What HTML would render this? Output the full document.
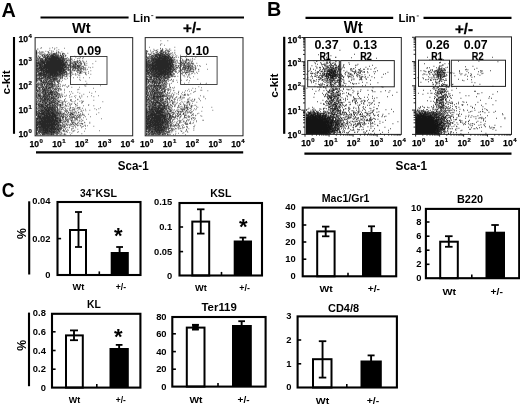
<!DOCTYPE html>
<html><head><meta charset="utf-8"><title>Figure</title>
<style>html,body{margin:0;padding:0;background:#fff}svg{display:block}text{font-family:"Liberation Sans",sans-serif;font-weight:bold;fill:#000}</style>
</head><body>
<svg width="520" height="406" viewBox="0 0 520 406">
<defs><filter id="soft" filterUnits="userSpaceOnUse" x="0" y="0" width="520" height="406"><feGaussianBlur stdDeviation="0.35"/></filter></defs>
<rect width="520" height="406" fill="#fff"/>
<path transform="scale(0.5) translate(0,0.5)" d="M82 95h1.4M104 95h1.4M113 95h1.4M81 96h1.4M99 96h1.4M109 96h1.4M128 96h1.4M75 97h1.4M108 98h1.4M75 99h1.4M117 99h1.4M72 100h1.4M99 100h1.4M113 100h1.4M72 101h1.4M103 101h1.4M72 102h1.4M78 102h1.4M91 102h1.4M106 102h1.4M72 103h2.4M83 103h1.4M85 103h1.4M95 103h2.4M103 103h1.4M113 103h1.4M116 103h1.4M123 103h1.4M72 104h2.4M79 104h2.4M87 104h1.4M96 104h1.4M103 104h1.4M116 104h2.4M72 105h2.4M76 105h1.4M82 105h1.4M84 105h1.4M96 105h1.4M99 105h1.4M112 105h2.4M119 105h1.4M169 105h1.4M72 106h2.4M78 106h1.4M102 106h1.4M107 106h2.4M111 106h1.4M113 106h1.4M120 106h1.4M124 106h1.4M126 106h1.4M135 106h1.4M169 106h1.4M72 107h2.4M80 107h1.4M83 107h1.4M89 107h1.4M97 107h1.4M101 107h1.4M105 107h5.4M111 107h1.4M113 107h1.4M117 107h1.4M124 107h1.4M126 107h1.4M128 107h1.4M72 108h2.4M79 108h1.4M86 108h1.4M89 108h1.4M94 108h2.4M98 108h2.4M105 108h1.4M107 108h2.4M110 108h1.4M116 108h1.4M120 108h1.4M124 108h2.4M129 108h1.4M72 109h1.4M81 109h1.4M83 109h2.4M87 109h1.4M91 109h1.4M93 109h1.4M95 109h1.4M99 109h1.4M102 109h3.4M106 109h5.4M112 109h3.4M124 109h1.4M73 110h1.4M84 110h1.4M88 110h1.4M93 110h1.4M95 110h2.4M99 110h1.4M101 110h2.4M104 110h2.4M107 110h1.4M110 110h2.4M114 110h1.4M116 110h1.4M120 110h2.4M125 110h2.4M131 110h1.4M72 111h2.4M77 111h1.4M83 111h3.4M88 111h3.4M92 111h2.4M96 111h1.4M100 111h1.4M102 111h6.4M109 111h2.4M112 111h2.4M115 111h2.4M119 111h4.4M126 111h2.4M130 111h2.4M73 112h1.4M76 112h1.4M85 112h1.4M87 112h1.4M89 112h2.4M94 112h3.4M99 112h2.4M102 112h8.4M111 112h4.4M116 112h2.4M121 112h4.4M127 112h1.4M149 112h1.4M159 112h1.4M72 113h2.4M77 113h1.4M80 113h1.4M85 113h1.4M89 113h1.4M91 113h1.4M94 113h5.4M100 113h2.4M103 113h9.4M113 113h3.4M118 113h1.4M122 113h1.4M125 113h1.4M127 113h1.4M130 113h1.4M143 113h1.4M72 114h2.4M78 114h2.4M87 114h4.4M92 114h4.4M99 114h1.4M101 114h16.4M121 114h3.4M125 114h3.4M160 114h1.4M73 115h1.4M75 115h1.4M78 115h2.4M86 115h3.4M90 115h1.4M93 115h4.4M98 115h2.4M101 115h24.4M126 115h1.4M134 115h1.4M151 115h1.4M166 115h1.4M75 116h1.4M77 116h1.4M79 116h1.4M83 116h1.4M90 116h2.4M93 116h1.4M95 116h27.4M123 116h1.4M125 116h2.4M132 116h1.4M157 116h1.4M159 116h1.4M164 116h1.4M72 117h2.4M75 117h1.4M79 117h7.4M90 117h29.4M121 117h2.4M124 117h8.4M133 117h1.4M136 117h1.4M143 117h1.4M154 117h1.4M72 118h2.4M76 118h2.4M80 118h1.4M82 118h4.4M87 118h10.4M98 118h16.4M115 118h8.4M124 118h3.4M129 118h2.4M139 118h1.4M143 118h1.4M75 119h1.4M79 119h2.4M84 119h1.4M90 119h4.4M96 119h26.4M123 119h2.4M126 119h3.4M133 119h1.4M137 119h1.4M143 119h1.4M148 119h1.4M72 120h4.4M77 120h1.4M80 120h4.4M85 120h1.4M87 120h1.4M90 120h2.4M93 120h33.4M128 120h1.4M133 120h4.4M158 120h2.4M165 120h1.4M72 121h2.4M76 121h1.4M79 121h4.4M84 121h12.4M97 121h2.4M100 121h30.4M131 121h2.4M135 121h1.4M138 121h2.4M145 121h1.4M154 121h2.4M72 122h2.4M79 122h2.4M82 122h5.4M88 122h35.4M124 122h5.4M143 122h1.4M152 122h1.4M157 122h1.4M160 122h1.4M165 122h1.4M172 122h1.4M191 122h1.4M75 123h3.4M79 123h2.4M82 123h7.4M91 123h2.4M94 123h33.4M130 123h1.4M132 123h2.4M137 123h1.4M146 123h1.4M148 123h4.4M154 123h2.4M161 123h1.4M166 123h1.4M72 124h3.4M76 124h2.4M79 124h3.4M83 124h45.4M130 124h4.4M142 124h1.4M148 124h2.4M152 124h1.4M154 124h1.4M158 124h1.4M161 124h1.4M169 124h1.4M72 125h2.4M75 125h1.4M77 125h1.4M79 125h2.4M82 125h9.4M92 125h35.4M128 125h3.4M132 125h1.4M135 125h1.4M138 125h1.4M144 125h1.4M146 125h1.4M150 125h1.4M154 125h2.4M158 125h1.4M161 125h1.4M166 125h1.4M72 126h13.4M86 126h4.4M92 126h33.4M126 126h2.4M129 126h3.4M133 126h1.4M140 126h1.4M142 126h1.4M145 126h1.4M149 126h3.4M156 126h1.4M160 126h1.4M162 126h1.4M169 126h1.4M173 126h1.4M72 127h1.4M74 127h1.4M76 127h2.4M79 127h2.4M82 127h1.4M84 127h6.4M91 127h39.4M134 127h1.4M139 127h1.4M143 127h1.4M145 127h1.4M149 127h3.4M153 127h1.4M157 127h1.4M161 127h1.4M163 127h1.4M168 127h1.4M185 127h1.4M72 128h2.4M75 128h2.4M78 128h5.4M84 128h2.4M87 128h44.4M133 128h2.4M141 128h1.4M145 128h3.4M150 128h3.4M162 128h1.4M168 128h2.4M72 129h1.4M75 129h1.4M78 129h7.4M88 129h45.4M134 129h1.4M136 129h1.4M138 129h2.4M147 129h2.4M150 129h1.4M152 129h1.4M157 129h1.4M159 129h1.4M161 129h1.4M72 130h4.4M77 130h1.4M79 130h5.4M85 130h45.4M131 130h1.4M135 130h2.4M138 130h1.4M145 130h1.4M147 130h2.4M150 130h1.4M153 130h3.4M161 130h1.4M168 130h1.4M170 130h1.4M173 130h1.4M72 131h5.4M78 131h4.4M83 131h3.4M87 131h44.4M132 131h2.4M136 131h3.4M142 131h1.4M146 131h2.4M149 131h1.4M151 131h1.4M154 131h7.4M72 132h1.4M74 132h2.4M77 132h1.4M79 132h3.4M83 132h3.4M87 132h35.4M123 132h4.4M129 132h4.4M139 132h1.4M141 132h1.4M143 132h3.4M147 132h1.4M151 132h1.4M154 132h4.4M159 132h1.4M162 132h1.4M164 132h1.4M166 132h1.4M72 133h3.4M78 133h1.4M80 133h48.4M129 133h3.4M133 133h1.4M136 133h1.4M140 133h2.4M144 133h1.4M146 133h7.4M154 133h1.4M157 133h3.4M165 133h1.4M72 134h1.4M74 134h1.4M77 134h8.4M86 134h40.4M127 134h5.4M133 134h4.4M138 134h1.4M145 134h1.4M147 134h5.4M153 134h2.4M156 134h1.4M161 134h1.4M166 134h1.4M171 134h1.4M177 134h1.4M185 134h1.4M72 135h1.4M76 135h1.4M78 135h6.4M85 135h42.4M128 135h2.4M131 135h2.4M135 135h2.4M142 135h3.4M147 135h2.4M151 135h1.4M156 135h4.4M162 135h1.4M167 135h1.4M169 135h1.4M180 135h1.4M72 136h1.4M74 136h2.4M77 136h4.4M82 136h47.4M131 136h1.4M133 136h2.4M137 136h1.4M146 136h2.4M150 136h2.4M153 136h1.4M155 136h1.4M157 136h1.4M160 136h3.4M165 136h1.4M167 136h1.4M72 137h18.4M91 137h37.4M133 137h1.4M136 137h1.4M144 137h1.4M147 137h1.4M149 137h2.4M152 137h1.4M154 137h2.4M158 137h1.4M162 137h1.4M164 137h1.4M170 137h1.4M72 138h3.4M77 138h1.4M79 138h7.4M87 138h1.4M89 138h6.4M96 138h33.4M130 138h4.4M136 138h1.4M155 138h1.4M161 138h1.4M166 138h2.4M169 138h1.4M171 138h1.4M174 138h1.4M72 139h2.4M75 139h3.4M80 139h1.4M82 139h6.4M89 139h6.4M96 139h28.4M125 139h5.4M131 139h1.4M135 139h1.4M137 139h3.4M144 139h2.4M147 139h1.4M150 139h1.4M155 139h3.4M160 139h2.4M163 139h1.4M72 140h1.4M75 140h2.4M78 140h1.4M80 140h5.4M86 140h4.4M91 140h33.4M125 140h5.4M134 140h1.4M136 140h1.4M138 140h1.4M143 140h2.4M149 140h1.4M155 140h1.4M157 140h1.4M159 140h1.4M167 140h1.4M171 140h1.4M72 141h4.4M78 141h52.4M131 141h1.4M136 141h1.4M146 141h1.4M148 141h2.4M153 141h1.4M155 141h2.4M159 141h1.4M162 141h1.4M181 141h1.4M72 142h1.4M75 142h3.4M79 142h1.4M82 142h2.4M85 142h4.4M90 142h26.4M117 142h8.4M126 142h2.4M130 142h3.4M141 142h1.4M152 142h1.4M155 142h1.4M160 142h2.4M72 143h1.4M74 143h3.4M82 143h1.4M84 143h1.4M86 143h2.4M89 143h25.4M115 143h12.4M128 143h1.4M130 143h1.4M132 143h1.4M139 143h1.4M143 143h1.4M158 143h1.4M162 143h1.4M164 143h1.4M176 143h1.4M72 144h3.4M76 144h3.4M80 144h3.4M85 144h30.4M116 144h7.4M124 144h6.4M131 144h1.4M133 144h1.4M143 144h1.4M154 144h1.4M157 144h1.4M160 144h2.4M167 144h1.4M169 144h1.4M171 144h1.4M72 145h2.4M79 145h1.4M81 145h4.4M86 145h4.4M91 145h25.4M118 145h5.4M124 145h1.4M127 145h4.4M132 145h2.4M139 145h1.4M143 145h1.4M155 145h1.4M159 145h3.4M72 146h1.4M76 146h1.4M78 146h6.4M85 146h2.4M88 146h1.4M91 146h7.4M99 146h30.4M160 146h1.4M163 146h1.4M170 146h2.4M176 146h1.4M72 147h2.4M76 147h14.4M91 147h3.4M95 147h2.4M98 147h19.4M119 147h2.4M122 147h3.4M127 147h1.4M129 147h1.4M132 147h3.4M136 147h1.4M138 147h1.4M143 147h1.4M150 147h1.4M158 147h2.4M72 148h1.4M75 148h1.4M78 148h4.4M83 148h11.4M96 148h10.4M107 148h5.4M113 148h10.4M125 148h1.4M130 148h1.4M132 148h1.4M135 148h1.4M140 148h1.4M144 148h1.4M147 148h1.4M151 148h1.4M155 148h1.4M170 148h1.4M181 148h1.4M72 149h2.4M75 149h4.4M80 149h4.4M86 149h6.4M93 149h4.4M98 149h1.4M100 149h17.4M118 149h2.4M121 149h1.4M123 149h3.4M127 149h3.4M131 149h1.4M133 149h1.4M172 149h1.4M72 150h3.4M76 150h4.4M81 150h6.4M88 150h7.4M96 150h11.4M108 150h11.4M120 150h2.4M124 150h1.4M126 150h1.4M142 150h1.4M151 150h1.4M157 150h1.4M72 151h3.4M77 151h2.4M80 151h2.4M83 151h5.4M89 151h1.4M91 151h2.4M94 151h3.4M98 151h1.4M100 151h2.4M103 151h7.4M111 151h3.4M115 151h2.4M119 151h2.4M122 151h1.4M124 151h1.4M126 151h1.4M128 151h1.4M132 151h1.4M135 151h1.4M159 151h1.4M72 152h1.4M80 152h1.4M82 152h1.4M86 152h7.4M96 152h5.4M103 152h1.4M105 152h8.4M114 152h1.4M117 152h4.4M124 152h1.4M132 152h1.4M139 152h1.4M72 153h3.4M77 153h3.4M81 153h2.4M87 153h2.4M90 153h3.4M94 153h5.4M100 153h2.4M104 153h4.4M109 153h1.4M111 153h4.4M117 153h1.4M121 153h1.4M123 153h1.4M125 153h1.4M129 153h2.4M133 153h1.4M141 153h1.4M72 154h2.4M77 154h3.4M83 154h1.4M85 154h4.4M90 154h2.4M93 154h8.4M102 154h2.4M105 154h1.4M107 154h1.4M109 154h3.4M113 154h1.4M116 154h1.4M119 154h1.4M121 154h1.4M124 154h1.4M154 154h1.4M72 155h1.4M78 155h1.4M82 155h1.4M84 155h1.4M87 155h2.4M90 155h1.4M93 155h3.4M97 155h2.4M100 155h3.4M104 155h3.4M109 155h1.4M113 155h1.4M119 155h1.4M121 155h1.4M123 155h2.4M146 155h1.4M159 155h1.4M166 155h1.4M178 155h1.4M72 156h1.4M74 156h3.4M78 156h1.4M80 156h9.4M91 156h1.4M94 156h1.4M96 156h1.4M98 156h3.4M103 156h1.4M105 156h1.4M107 156h7.4M115 156h1.4M120 156h1.4M124 156h1.4M134 156h1.4M72 157h2.4M75 157h5.4M81 157h4.4M90 157h4.4M95 157h2.4M98 157h2.4M101 157h1.4M104 157h1.4M106 157h4.4M111 157h1.4M113 157h2.4M117 157h1.4M120 157h1.4M123 157h1.4M128 157h1.4M72 158h2.4M75 158h1.4M77 158h1.4M81 158h1.4M83 158h1.4M87 158h1.4M89 158h1.4M91 158h2.4M94 158h3.4M100 158h2.4M103 158h1.4M105 158h5.4M111 158h1.4M113 158h1.4M119 158h1.4M131 158h1.4M72 159h2.4M77 159h3.4M81 159h1.4M88 159h1.4M91 159h1.4M93 159h1.4M95 159h1.4M99 159h2.4M102 159h2.4M105 159h1.4M107 159h2.4M110 159h5.4M118 159h1.4M158 159h1.4M72 160h3.4M78 160h1.4M80 160h4.4M86 160h2.4M89 160h1.4M91 160h1.4M94 160h1.4M97 160h2.4M100 160h2.4M103 160h1.4M105 160h5.4M114 160h1.4M117 160h1.4M124 160h1.4M160 160h1.4M72 161h3.4M77 161h1.4M81 161h3.4M86 161h1.4M90 161h4.4M98 161h2.4M102 161h1.4M106 161h1.4M110 161h1.4M112 161h1.4M117 161h3.4M73 162h1.4M80 162h4.4M86 162h1.4M88 162h1.4M90 162h1.4M92 162h1.4M94 162h1.4M96 162h2.4M100 162h1.4M103 162h3.4M107 162h3.4M112 162h1.4M114 162h1.4M116 162h1.4M119 162h1.4M171 162h1.4M72 163h2.4M82 163h3.4M86 163h1.4M88 163h1.4M92 163h2.4M96 163h9.4M106 163h1.4M114 163h2.4M118 163h1.4M122 163h1.4M72 164h2.4M76 164h1.4M79 164h1.4M82 164h1.4M85 164h3.4M89 164h2.4M92 164h2.4M97 164h1.4M102 164h1.4M105 164h1.4M108 164h2.4M114 164h3.4M80 165h1.4M84 165h9.4M94 165h2.4M97 165h2.4M100 165h1.4M102 165h1.4M105 165h1.4M109 165h1.4M116 165h1.4M140 165h1.4M75 166h2.4M81 166h2.4M85 166h1.4M87 166h1.4M90 166h2.4M94 166h3.4M99 166h2.4M102 166h3.4M108 166h1.4M117 166h1.4M173 166h1.4M72 167h1.4M74 167h1.4M77 167h2.4M81 167h3.4M87 167h2.4M93 167h2.4M96 167h6.4M103 167h3.4M110 167h1.4M116 167h1.4M119 167h1.4M72 168h2.4M75 168h1.4M77 168h4.4M83 168h3.4M88 168h2.4M91 168h2.4M94 168h2.4M98 168h4.4M103 168h2.4M106 168h1.4M108 168h1.4M115 168h1.4M72 169h3.4M76 169h1.4M81 169h2.4M84 169h2.4M88 169h2.4M93 169h2.4M96 169h1.4M98 169h2.4M102 169h5.4M108 169h1.4M110 169h1.4M113 169h1.4M115 169h2.4M120 169h1.4M130 169h1.4M171 169h1.4M73 170h1.4M77 170h1.4M81 170h3.4M85 170h1.4M88 170h2.4M92 170h2.4M96 170h1.4M98 170h1.4M100 170h1.4M103 170h2.4M107 170h4.4M125 170h1.4M127 170h1.4M72 171h2.4M75 171h2.4M79 171h1.4M81 171h1.4M84 171h1.4M93 171h1.4M95 171h1.4M97 171h1.4M100 171h1.4M102 171h1.4M104 171h2.4M113 171h1.4M117 171h1.4M129 171h1.4M137 171h1.4M169 171h1.4M200 171h1.4M72 172h2.4M75 172h1.4M81 172h2.4M84 172h1.4M87 172h2.4M90 172h6.4M97 172h1.4M103 172h4.4M111 172h1.4M115 172h3.4M120 172h1.4M124 172h1.4M136 172h1.4M171 172h1.4M72 173h3.4M83 173h4.4M91 173h1.4M93 173h1.4M97 173h2.4M100 173h1.4M102 173h2.4M105 173h1.4M107 173h3.4M112 173h1.4M116 173h1.4M133 173h1.4M72 174h2.4M75 174h2.4M78 174h3.4M83 174h1.4M86 174h2.4M91 174h3.4M98 174h3.4M102 174h1.4M113 174h2.4M119 174h1.4M134 174h1.4M143 174h1.4M158 174h1.4M72 175h1.4M76 175h2.4M79 175h1.4M81 175h4.4M86 175h2.4M89 175h2.4M92 175h3.4M96 175h7.4M104 175h3.4M111 175h1.4M72 176h1.4M79 176h1.4M84 176h1.4M87 176h2.4M90 176h1.4M92 176h2.4M96 176h4.4M101 176h1.4M105 176h1.4M110 176h1.4M114 176h1.4M186 176h1.4M72 177h2.4M76 177h5.4M84 177h2.4M88 177h1.4M91 177h1.4M93 177h1.4M95 177h3.4M101 177h1.4M105 177h3.4M109 177h2.4M112 177h1.4M115 177h5.4M121 177h1.4M72 178h2.4M78 178h1.4M84 178h2.4M87 178h5.4M93 178h3.4M99 178h1.4M101 178h1.4M104 178h1.4M109 178h1.4M111 178h2.4M117 178h1.4M120 178h1.4M128 178h1.4M157 178h1.4M73 179h1.4M75 179h1.4M78 179h2.4M81 179h1.4M83 179h2.4M86 179h4.4M92 179h1.4M97 179h1.4M100 179h1.4M108 179h2.4M111 179h2.4M116 179h1.4M122 179h1.4M155 179h1.4M72 180h3.4M76 180h1.4M81 180h1.4M86 180h1.4M88 180h5.4M94 180h7.4M102 180h2.4M106 180h2.4M114 180h1.4M121 180h1.4M72 181h2.4M75 181h2.4M78 181h1.4M81 181h1.4M83 181h2.4M86 181h2.4M89 181h2.4M92 181h1.4M94 181h1.4M96 181h1.4M101 181h2.4M111 181h1.4M116 181h2.4M128 181h1.4M73 182h4.4M78 182h3.4M84 182h2.4M87 182h1.4M89 182h4.4M99 182h1.4M101 182h1.4M103 182h2.4M106 182h1.4M109 182h4.4M117 182h1.4M74 183h2.4M81 183h1.4M84 183h1.4M86 183h2.4M89 183h1.4M91 183h1.4M94 183h4.4M100 183h7.4M109 183h1.4M113 183h1.4M138 183h1.4M142 183h1.4M190 183h1.4M73 184h1.4M77 184h1.4M79 184h1.4M83 184h1.4M85 184h2.4M89 184h3.4M93 184h3.4M97 184h7.4M105 184h2.4M109 184h1.4M112 184h3.4M155 184h1.4M178 184h1.4M72 185h2.4M79 185h1.4M81 185h2.4M84 185h1.4M87 185h2.4M90 185h2.4M93 185h2.4M97 185h2.4M100 185h6.4M108 185h3.4M113 185h1.4M115 185h1.4M128 185h1.4M72 186h1.4M75 186h1.4M77 186h1.4M83 186h3.4M87 186h1.4M89 186h4.4M95 186h2.4M99 186h3.4M103 186h3.4M107 186h1.4M111 186h1.4M113 186h1.4M123 186h1.4M145 186h1.4M159 186h1.4M183 186h1.4M72 187h2.4M78 187h3.4M86 187h1.4M89 187h3.4M93 187h1.4M96 187h2.4M99 187h1.4M101 187h1.4M103 187h1.4M107 187h2.4M111 187h1.4M114 187h4.4M119 187h1.4M74 188h1.4M76 188h2.4M80 188h2.4M85 188h1.4M87 188h2.4M90 188h2.4M93 188h1.4M96 188h5.4M102 188h4.4M107 188h3.4M111 188h1.4M113 188h2.4M117 188h1.4M119 188h1.4M140 188h1.4M167 188h1.4M72 189h2.4M76 189h3.4M86 189h4.4M91 189h2.4M94 189h3.4M98 189h3.4M102 189h2.4M105 189h1.4M108 189h4.4M114 189h1.4M119 189h1.4M122 189h1.4M125 189h1.4M72 190h2.4M76 190h5.4M83 190h1.4M85 190h1.4M88 190h2.4M91 190h2.4M95 190h2.4M102 190h3.4M112 190h1.4M116 190h1.4M118 190h1.4M132 190h1.4M163 190h1.4M73 191h1.4M75 191h2.4M78 191h4.4M86 191h2.4M89 191h2.4M92 191h4.4M97 191h3.4M103 191h2.4M106 191h1.4M109 191h2.4M112 191h2.4M115 191h1.4M120 191h1.4M123 191h1.4M138 191h1.4M151 191h1.4M182 191h1.4M196 191h1.4M72 192h2.4M77 192h2.4M81 192h2.4M84 192h7.4M94 192h1.4M96 192h4.4M101 192h1.4M104 192h1.4M106 192h1.4M109 192h2.4M112 192h2.4M116 192h1.4M118 192h1.4M124 192h1.4M128 192h1.4M131 192h1.4M148 192h1.4M158 192h1.4M72 193h1.4M75 193h2.4M78 193h3.4M82 193h1.4M86 193h3.4M90 193h6.4M98 193h1.4M101 193h2.4M106 193h2.4M111 193h1.4M113 193h1.4M120 193h1.4M124 193h1.4M143 193h1.4M163 193h1.4M174 193h1.4M187 193h1.4M72 194h1.4M75 194h2.4M79 194h3.4M84 194h1.4M86 194h1.4M88 194h1.4M90 194h5.4M98 194h2.4M102 194h8.4M111 194h1.4M114 194h1.4M116 194h2.4M120 194h1.4M139 194h1.4M159 194h1.4M72 195h1.4M74 195h1.4M81 195h1.4M84 195h3.4M88 195h1.4M91 195h1.4M93 195h1.4M95 195h2.4M98 195h1.4M101 195h3.4M105 195h1.4M116 195h2.4M121 195h1.4M150 195h1.4M73 196h1.4M75 196h1.4M78 196h1.4M80 196h5.4M88 196h3.4M93 196h1.4M95 196h4.4M101 196h1.4M103 196h2.4M107 196h3.4M111 196h2.4M115 196h1.4M160 196h1.4M74 197h1.4M76 197h2.4M79 197h2.4M82 197h1.4M84 197h1.4M86 197h1.4M88 197h7.4M96 197h1.4M99 197h2.4M102 197h7.4M110 197h1.4M114 197h1.4M130 197h1.4M72 198h2.4M80 198h1.4M83 198h2.4M88 198h4.4M93 198h5.4M99 198h2.4M102 198h2.4M106 198h3.4M110 198h1.4M112 198h1.4M117 198h1.4M155 198h1.4M72 199h1.4M76 199h1.4M78 199h1.4M81 199h4.4M86 199h2.4M89 199h4.4M94 199h2.4M97 199h1.4M99 199h2.4M106 199h1.4M110 199h1.4M113 199h1.4M128 199h1.4M140 199h1.4M142 199h1.4M155 199h1.4M77 200h1.4M80 200h1.4M83 200h2.4M86 200h4.4M91 200h1.4M95 200h2.4M98 200h2.4M104 200h2.4M107 200h1.4M109 200h1.4M113 200h1.4M115 200h1.4M120 200h1.4M128 200h1.4M141 200h1.4M187 200h1.4M72 201h2.4M75 201h2.4M80 201h1.4M83 201h3.4M87 201h2.4M90 201h1.4M92 201h4.4M98 201h4.4M103 201h2.4M106 201h3.4M110 201h1.4M113 201h1.4M115 201h1.4M118 201h1.4M123 201h1.4M141 201h1.4M150 201h1.4M163 201h1.4M73 202h1.4M76 202h1.4M78 202h1.4M80 202h3.4M86 202h2.4M89 202h1.4M91 202h1.4M94 202h3.4M99 202h1.4M101 202h1.4M103 202h1.4M109 202h1.4M111 202h1.4M114 202h1.4M116 202h2.4M128 202h1.4M133 202h1.4M142 202h1.4M159 202h1.4M166 202h1.4M72 203h3.4M78 203h1.4M80 203h2.4M84 203h2.4M88 203h3.4M92 203h1.4M95 203h1.4M99 203h2.4M102 203h7.4M110 203h2.4M116 203h3.4M125 203h1.4M127 203h1.4M130 203h1.4M145 203h1.4M149 203h1.4M164 203h1.4M205 203h1.4M74 204h1.4M79 204h2.4M84 204h3.4M88 204h1.4M90 204h3.4M95 204h4.4M102 204h1.4M104 204h3.4M108 204h1.4M112 204h1.4M117 204h2.4M120 204h1.4M122 204h1.4M125 204h1.4M163 204h2.4M72 205h2.4M77 205h1.4M82 205h1.4M84 205h3.4M89 205h1.4M91 205h3.4M98 205h7.4M106 205h4.4M111 205h1.4M114 205h2.4M124 205h1.4M130 205h1.4M137 205h1.4M72 206h2.4M76 206h4.4M85 206h1.4M89 206h5.4M95 206h1.4M98 206h4.4M103 206h1.4M107 206h1.4M109 206h2.4M112 206h1.4M114 206h1.4M125 206h1.4M148 206h1.4M154 206h1.4M163 206h1.4M72 207h2.4M79 207h1.4M81 207h1.4M83 207h1.4M86 207h2.4M89 207h4.4M97 207h4.4M102 207h1.4M104 207h1.4M109 207h3.4M113 207h4.4M123 207h2.4M134 207h1.4M139 207h1.4M143 207h1.4M72 208h2.4M75 208h1.4M77 208h2.4M80 208h2.4M83 208h2.4M86 208h1.4M89 208h1.4M91 208h1.4M94 208h4.4M99 208h2.4M102 208h1.4M104 208h2.4M109 208h1.4M115 208h1.4M119 208h2.4M127 208h1.4M141 208h2.4M150 208h1.4M72 209h2.4M75 209h3.4M79 209h2.4M82 209h5.4M88 209h1.4M91 209h1.4M94 209h3.4M98 209h2.4M104 209h1.4M106 209h1.4M108 209h2.4M112 209h2.4M115 209h1.4M117 209h2.4M120 209h2.4M124 209h1.4M130 209h1.4M138 209h1.4M150 209h2.4M177 209h1.4M72 210h1.4M76 210h3.4M81 210h5.4M88 210h1.4M90 210h6.4M97 210h1.4M99 210h3.4M104 210h8.4M114 210h1.4M118 210h1.4M120 210h2.4M123 210h1.4M125 210h1.4M131 210h1.4M153 210h2.4M176 210h1.4M73 211h1.4M76 211h1.4M78 211h2.4M81 211h3.4M85 211h3.4M90 211h3.4M94 211h1.4M97 211h1.4M99 211h1.4M101 211h3.4M105 211h2.4M110 211h1.4M114 211h1.4M116 211h1.4M120 211h1.4M130 211h1.4M133 211h1.4M140 211h1.4M166 211h1.4M187 211h1.4M72 212h2.4M76 212h1.4M79 212h2.4M82 212h6.4M89 212h1.4M92 212h4.4M99 212h3.4M105 212h1.4M109 212h2.4M112 212h1.4M118 212h1.4M120 212h1.4M133 212h1.4M137 212h1.4M75 213h1.4M78 213h5.4M84 213h3.4M89 213h1.4M91 213h4.4M97 213h3.4M102 213h1.4M104 213h6.4M111 213h1.4M113 213h2.4M121 213h1.4M129 213h1.4M151 213h1.4M72 214h2.4M77 214h1.4M79 214h2.4M82 214h3.4M86 214h3.4M90 214h3.4M94 214h3.4M98 214h8.4M107 214h2.4M112 214h1.4M114 214h1.4M123 214h1.4M125 214h2.4M140 214h1.4M154 214h1.4M159 214h1.4M72 215h2.4M76 215h1.4M79 215h1.4M83 215h1.4M85 215h1.4M87 215h5.4M94 215h9.4M104 215h2.4M107 215h5.4M113 215h2.4M119 215h1.4M121 215h2.4M125 215h1.4M141 215h1.4M144 215h1.4M146 215h1.4M156 215h2.4M159 215h1.4M200 215h1.4M72 216h2.4M76 216h1.4M78 216h1.4M80 216h2.4M83 216h4.4M88 216h2.4M91 216h1.4M93 216h3.4M97 216h2.4M100 216h1.4M102 216h1.4M104 216h2.4M107 216h2.4M111 216h1.4M114 216h1.4M119 216h1.4M124 216h1.4M129 216h2.4M138 216h1.4M140 216h1.4M149 216h1.4M154 216h1.4M164 216h1.4M72 217h1.4M74 217h1.4M77 217h1.4M79 217h1.4M83 217h1.4M85 217h1.4M88 217h3.4M92 217h2.4M95 217h9.4M105 217h3.4M109 217h2.4M114 217h2.4M135 217h1.4M153 217h1.4M158 217h1.4M189 217h1.4M197 217h1.4M72 218h3.4M80 218h4.4M86 218h8.4M95 218h4.4M100 218h1.4M102 218h5.4M108 218h1.4M110 218h1.4M114 218h3.4M118 218h1.4M121 218h1.4M123 218h2.4M131 218h1.4M144 218h1.4M147 218h3.4M157 218h1.4M161 218h1.4M170 218h1.4M77 219h1.4M79 219h1.4M83 219h3.4M89 219h6.4M96 219h8.4M105 219h5.4M111 219h2.4M122 219h1.4M126 219h1.4M131 219h1.4M138 219h1.4M146 219h1.4M192 219h1.4M72 220h2.4M76 220h2.4M79 220h1.4M81 220h7.4M90 220h11.4M102 220h1.4M104 220h2.4M108 220h1.4M110 220h1.4M113 220h4.4M118 220h1.4M132 220h1.4M138 220h1.4M140 220h1.4M143 220h2.4M166 220h1.4M179 220h1.4M72 221h1.4M77 221h4.4M82 221h9.4M92 221h8.4M102 221h10.4M114 221h1.4M121 221h1.4M128 221h1.4M131 221h1.4M134 221h1.4M148 221h1.4M155 221h1.4M163 221h1.4M171 221h1.4M72 222h2.4M75 222h3.4M80 222h1.4M82 222h1.4M84 222h3.4M88 222h4.4M93 222h6.4M100 222h3.4M105 222h2.4M108 222h1.4M111 222h1.4M114 222h1.4M116 222h1.4M119 222h1.4M130 222h3.4M134 222h1.4M141 222h1.4M145 222h1.4M151 222h1.4M161 222h2.4M72 223h2.4M75 223h1.4M79 223h5.4M85 223h1.4M87 223h4.4M92 223h7.4M100 223h2.4M103 223h6.4M110 223h5.4M118 223h1.4M120 223h1.4M123 223h1.4M151 223h1.4M72 224h3.4M77 224h3.4M82 224h3.4M86 224h5.4M92 224h1.4M94 224h13.4M108 224h1.4M110 224h1.4M112 224h1.4M114 224h1.4M118 224h1.4M120 224h1.4M123 224h1.4M129 224h1.4M133 224h1.4M136 224h2.4M143 224h1.4M145 224h1.4M149 224h1.4M157 224h1.4M164 224h1.4M72 225h2.4M76 225h3.4M83 225h6.4M90 225h5.4M96 225h3.4M101 225h8.4M110 225h1.4M112 225h6.4M120 225h1.4M132 225h1.4M137 225h1.4M140 225h2.4M146 225h1.4M149 225h1.4M152 225h1.4M156 225h2.4M197 225h1.4M72 226h2.4M75 226h2.4M78 226h12.4M91 226h10.4M102 226h9.4M113 226h1.4M115 226h4.4M120 226h1.4M125 226h2.4M128 226h1.4M137 226h1.4M142 226h1.4M145 226h1.4M149 226h1.4M72 227h1.4M74 227h2.4M77 227h11.4M89 227h19.4M109 227h1.4M111 227h4.4M116 227h3.4M120 227h4.4M126 227h2.4M134 227h1.4M140 227h1.4M142 227h3.4M153 227h1.4M160 227h1.4M164 227h1.4M72 228h2.4M75 228h3.4M79 228h3.4M83 228h8.4M92 228h3.4M96 228h5.4M103 228h8.4M113 228h1.4M115 228h1.4M118 228h1.4M124 228h1.4M128 228h1.4M130 228h1.4M140 228h3.4M144 228h2.4M147 228h1.4M161 228h1.4M167 228h1.4M176 228h1.4M192 228h1.4M72 229h2.4M75 229h1.4M77 229h1.4M79 229h1.4M82 229h8.4M91 229h11.4M103 229h10.4M114 229h1.4M116 229h1.4M119 229h1.4M121 229h2.4M124 229h1.4M126 229h1.4M130 229h1.4M132 229h1.4M134 229h1.4M138 229h3.4M144 229h3.4M156 229h1.4M159 229h1.4M164 229h2.4M72 230h2.4M76 230h2.4M79 230h4.4M84 230h1.4M86 230h1.4M88 230h9.4M98 230h5.4M104 230h3.4M108 230h5.4M114 230h3.4M118 230h2.4M122 230h1.4M126 230h1.4M136 230h1.4M140 230h1.4M147 230h1.4M149 230h3.4M154 230h1.4M158 230h1.4M167 230h1.4M72 231h2.4M75 231h3.4M79 231h1.4M81 231h3.4M87 231h9.4M97 231h17.4M115 231h1.4M119 231h1.4M123 231h1.4M127 231h1.4M131 231h1.4M133 231h1.4M141 231h1.4M143 231h1.4M154 231h1.4M159 231h2.4M162 231h1.4M168 231h1.4M74 232h8.4M84 232h2.4M87 232h4.4M92 232h21.4M120 232h3.4M124 232h1.4M126 232h1.4M128 232h1.4M134 232h1.4M139 232h1.4M142 232h1.4M149 232h1.4M152 232h1.4M157 232h1.4M159 232h1.4M75 233h9.4M85 233h15.4M101 233h11.4M113 233h1.4M115 233h1.4M117 233h3.4M122 233h1.4M124 233h1.4M127 233h1.4M130 233h1.4M134 233h1.4M138 233h2.4M144 233h1.4M146 233h2.4M153 233h1.4M156 233h1.4M170 233h1.4M180 233h1.4M77 234h5.4M83 234h25.4M109 234h4.4M114 234h2.4M117 234h1.4M121 234h1.4M124 234h1.4M126 234h2.4M131 234h1.4M141 234h1.4M143 234h2.4M146 234h3.4M156 234h1.4M159 234h2.4M73 235h9.4M83 235h23.4M107 235h7.4M115 235h1.4M117 235h1.4M119 235h2.4M124 235h3.4M130 235h1.4M132 235h2.4M141 235h1.4M143 235h2.4M148 235h1.4M151 235h2.4M154 235h2.4M159 235h1.4M166 235h1.4M72 236h29.4M102 236h6.4M109 236h8.4M119 236h2.4M124 236h2.4M130 236h1.4M137 236h2.4M140 236h1.4M144 236h1.4M149 236h1.4M153 236h1.4M72 237h4.4M77 237h1.4M79 237h29.4M110 237h7.4M118 237h2.4M121 237h1.4M130 237h1.4M133 237h1.4M142 237h1.4M150 237h1.4M153 237h1.4M159 237h1.4M202 237h1.4M72 238h4.4M78 238h7.4M86 238h17.4M104 238h8.4M113 238h1.4M115 238h3.4M120 238h2.4M126 238h2.4M135 238h1.4M139 238h1.4M144 238h1.4M149 238h1.4M151 238h3.4M162 238h1.4M172 238h1.4M73 239h2.4M76 239h2.4M79 239h1.4M81 239h11.4M93 239h15.4M109 239h3.4M113 239h1.4M115 239h1.4M118 239h2.4M121 239h1.4M124 239h1.4M130 239h2.4M133 239h1.4M135 239h1.4M137 239h1.4M141 239h1.4M154 239h1.4M72 240h3.4M79 240h1.4M82 240h5.4M88 240h28.4M118 240h5.4M132 240h2.4M135 240h1.4M141 240h1.4M143 240h2.4M149 240h1.4M159 240h1.4M165 240h1.4M72 241h2.4M76 241h39.4M116 241h6.4M123 241h1.4M125 241h1.4M127 241h1.4M129 241h1.4M136 241h1.4M142 241h2.4M147 241h1.4M151 241h1.4M155 241h1.4M159 241h1.4M165 241h1.4M72 242h1.4M74 242h1.4M76 242h1.4M78 242h29.4M108 242h8.4M119 242h3.4M131 242h1.4M134 242h1.4M143 242h1.4M162 242h1.4M72 243h4.4M77 243h33.4M111 243h6.4M118 243h1.4M120 243h1.4M126 243h1.4M128 243h1.4M130 243h2.4M134 243h1.4M136 243h1.4M143 243h1.4M147 243h1.4M159 243h1.4M72 244h10.4M83 244h30.4M114 244h9.4M124 244h1.4M127 244h1.4M129 244h1.4M135 244h1.4M137 244h1.4M142 244h1.4M144 244h1.4M149 244h1.4M156 244h1.4M168 244h1.4M179 244h1.4M72 245h2.4M75 245h30.4M106 245h5.4M112 245h1.4M115 245h3.4M120 245h1.4M123 245h1.4M144 245h1.4M146 245h2.4M155 245h1.4M169 245h1.4M72 246h4.4M77 246h23.4M101 246h10.4M112 246h5.4M119 246h1.4M124 246h1.4M133 246h1.4M145 246h1.4M149 246h1.4M162 246h1.4M179 246h1.4M72 247h1.4M74 247h1.4M76 247h3.4M80 247h12.4M93 247h4.4M98 247h12.4M111 247h3.4M115 247h1.4M117 247h2.4M125 247h1.4M129 247h1.4M131 247h1.4M141 247h1.4M144 247h1.4M150 247h2.4M154 247h2.4M159 247h2.4M162 247h1.4M164 247h2.4M72 248h43.4M116 248h1.4M124 248h1.4M126 248h1.4M132 248h1.4M135 248h1.4M137 248h1.4M140 248h1.4M142 248h1.4M145 248h1.4M151 248h1.4M164 248h1.4M72 249h5.4M78 249h39.4M118 249h4.4M127 249h2.4M132 249h1.4M139 249h1.4M142 249h1.4M146 249h2.4M152 249h2.4M72 250h4.4M79 250h2.4M82 250h30.4M113 250h5.4M119 250h2.4M122 250h1.4M129 250h1.4M131 250h1.4M134 250h1.4M149 250h1.4M157 250h1.4M169 250h2.4M72 251h5.4M78 251h2.4M81 251h26.4M109 251h3.4M115 251h3.4M120 251h2.4M124 251h2.4M127 251h1.4M135 251h1.4M138 251h1.4M140 251h1.4M149 251h1.4M154 251h2.4M160 251h2.4M174 251h1.4M72 252h2.4M76 252h3.4M80 252h31.4M112 252h6.4M119 252h2.4M122 252h1.4M125 252h1.4M128 252h3.4M143 252h2.4M166 252h1.4M170 252h1.4M187 252h1.4M72 253h2.4M76 253h1.4M78 253h2.4M81 253h19.4M101 253h9.4M112 253h1.4M115 253h2.4M124 253h1.4M126 253h1.4M129 253h1.4M146 253h1.4M150 253h1.4M163 253h2.4M72 254h20.4M93 254h6.4M100 254h1.4M102 254h5.4M108 254h3.4M113 254h6.4M120 254h1.4M122 254h1.4M129 254h1.4M138 254h1.4M72 255h5.4M78 255h5.4M84 255h27.4M112 255h2.4M115 255h1.4M118 255h1.4M120 255h1.4M122 255h1.4M126 255h1.4M128 255h1.4M132 255h1.4M135 255h1.4M138 255h1.4M151 255h1.4M162 255h1.4M72 256h3.4M79 256h6.4M86 256h27.4M115 256h1.4M117 256h2.4M120 256h1.4M122 256h3.4M144 256h1.4M146 256h1.4M72 257h4.4M77 257h3.4M81 257h1.4M83 257h14.4M98 257h10.4M109 257h7.4M117 257h3.4M121 257h1.4M130 257h1.4M142 257h1.4M170 257h1.4M72 258h2.4M75 258h2.4M78 258h3.4M82 258h3.4M86 258h2.4M89 258h9.4M99 258h13.4M114 258h5.4M120 258h3.4M127 258h1.4M130 258h1.4M155 258h1.4M72 259h1.4M74 259h1.4M78 259h1.4M80 259h3.4M84 259h13.4M98 259h7.4M106 259h12.4M121 259h1.4M126 259h1.4M134 259h1.4M143 259h1.4M72 260h5.4M78 260h22.4M101 260h6.4M109 260h1.4M111 260h2.4M114 260h1.4M116 260h3.4M126 260h1.4M136 260h1.4M143 260h1.4M149 260h1.4M72 261h2.4M77 261h2.4M81 261h2.4M85 261h12.4M98 261h3.4M102 261h2.4M105 261h2.4M108 261h2.4M112 261h1.4M116 261h1.4M119 261h1.4M121 261h1.4M124 261h1.4M126 261h1.4M128 261h2.4M133 261h1.4M147 261h1.4M198 261h1.4M72 262h2.4M76 262h2.4M79 262h8.4M89 262h14.4M104 262h1.4M106 262h7.4M114 262h2.4M117 262h1.4M119 262h1.4M126 262h1.4M133 262h1.4M147 262h1.4M168 262h1.4M72 263h1.4M76 263h5.4M84 263h1.4M86 263h6.4M93 263h4.4M98 263h10.4M109 263h2.4M112 263h1.4M117 263h3.4M128 263h1.4M131 263h2.4M145 263h1.4M156 263h1.4M72 264h2.4M77 264h7.4M85 264h2.4M88 264h12.4M101 264h9.4M111 264h2.4M114 264h3.4M118 264h1.4M122 264h1.4M134 264h1.4M154 264h1.4M72 265h3.4M76 265h1.4M81 265h1.4M83 265h12.4M97 265h1.4M100 265h5.4M106 265h4.4M111 265h2.4M114 265h1.4M120 265h1.4M139 265h1.4M72 266h4.4M77 266h2.4M83 266h1.4M85 266h6.4M92 266h2.4M95 266h4.4M101 266h1.4M103 266h1.4M106 266h1.4M108 266h1.4M112 266h1.4M114 266h3.4M123 266h1.4M143 266h1.4M72 267h2.4M78 267h2.4M83 267h2.4M86 267h1.4M89 267h1.4M91 267h1.4M93 267h4.4M98 267h1.4M100 267h1.4M102 267h4.4M107 267h1.4M110 267h3.4M116 267h1.4M119 267h1.4M123 267h1.4M128 267h1.4M163 267h1.4M72 268h2.4M75 268h1.4M84 268h3.4M88 268h4.4M93 268h1.4M95 268h1.4M98 268h3.4M102 268h6.4M114 268h1.4M119 268h1.4M123 268h1.4M127 268h1.4M129 268h1.4M131 268h1.4M72 269h3.4M77 269h1.4M80 269h2.4M84 269h5.4M93 269h1.4M95 269h3.4M100 269h1.4M102 269h2.4M106 269h1.4M109 269h1.4M112 269h3.4M120 269h1.4M129 269h1.4M140 269h1.4" stroke="#000" stroke-width="1.4" fill="none"/>
<path transform="scale(0.5) translate(0,0.5)" d="M321 81h1.4M335 81h1.4M323 87h1.4M320 88h1.4M320 90h1.4M328 90h1.4M298 94h1.4M349 94h1.4M320 96h1.4M320 97h1.4M324 97h1.4M331 97h1.4M339 97h1.4M307 98h1.4M324 98h1.4M333 98h1.4M315 99h1.4M325 99h1.4M338 99h1.4M300 100h1.4M308 100h1.4M312 100h1.4M321 100h3.4M325 100h1.4M332 100h1.4M335 100h2.4M341 100h1.4M349 100h1.4M292 101h2.4M310 101h1.4M312 101h1.4M321 101h2.4M324 101h1.4M330 101h2.4M334 101h1.4M292 102h2.4M295 102h1.4M306 102h1.4M314 102h1.4M322 102h3.4M336 102h1.4M338 102h1.4M294 103h1.4M301 103h1.4M305 103h1.4M315 103h1.4M320 103h2.4M323 103h1.4M327 103h1.4M329 103h2.4M334 103h1.4M336 103h1.4M338 103h1.4M292 104h1.4M312 104h2.4M319 104h2.4M323 104h2.4M326 104h3.4M331 104h1.4M333 104h1.4M336 104h1.4M349 104h1.4M399 104h1.4M292 105h1.4M303 105h1.4M311 105h1.4M315 105h1.4M318 105h1.4M320 105h1.4M323 105h1.4M326 105h1.4M330 105h1.4M344 105h1.4M292 106h2.4M303 106h1.4M306 106h2.4M314 106h1.4M321 106h3.4M325 106h1.4M330 106h2.4M333 106h1.4M336 106h1.4M340 106h1.4M342 106h1.4M349 106h1.4M292 107h1.4M296 107h1.4M308 107h1.4M313 107h1.4M316 107h2.4M320 107h6.4M327 107h1.4M330 107h1.4M335 107h2.4M339 107h1.4M292 108h2.4M296 108h1.4M298 108h4.4M311 108h7.4M319 108h3.4M323 108h1.4M325 108h1.4M327 108h1.4M329 108h1.4M332 108h3.4M337 108h2.4M345 108h1.4M301 109h1.4M307 109h2.4M310 109h2.4M313 109h1.4M315 109h2.4M318 109h2.4M321 109h2.4M324 109h6.4M331 109h2.4M334 109h2.4M338 109h1.4M340 109h1.4M350 109h1.4M292 110h1.4M303 110h1.4M305 110h2.4M308 110h1.4M310 110h1.4M312 110h2.4M315 110h9.4M325 110h1.4M328 110h2.4M331 110h1.4M334 110h1.4M336 110h2.4M343 110h1.4M347 110h1.4M360 110h1.4M292 111h1.4M298 111h1.4M303 111h3.4M309 111h3.4M313 111h1.4M315 111h1.4M317 111h5.4M323 111h5.4M329 111h3.4M333 111h1.4M336 111h3.4M353 111h1.4M372 111h1.4M292 112h1.4M298 112h1.4M301 112h1.4M303 112h1.4M305 112h3.4M310 112h4.4M315 112h1.4M318 112h22.4M344 112h2.4M383 112h1.4M292 113h2.4M296 113h1.4M301 113h3.4M306 113h1.4M308 113h1.4M310 113h6.4M317 113h4.4M323 113h12.4M337 113h2.4M340 113h1.4M351 113h1.4M292 114h2.4M295 114h1.4M298 114h1.4M300 114h1.4M304 114h2.4M308 114h1.4M312 114h1.4M314 114h2.4M317 114h10.4M328 114h11.4M340 114h1.4M342 114h1.4M344 114h2.4M352 114h1.4M356 114h1.4M371 114h1.4M391 114h1.4M293 115h2.4M297 115h1.4M302 115h3.4M307 115h5.4M314 115h11.4M326 115h7.4M334 115h5.4M340 115h3.4M344 115h2.4M348 115h2.4M293 116h5.4M299 116h2.4M302 116h2.4M305 116h3.4M309 116h2.4M312 116h27.4M340 116h3.4M346 116h1.4M363 116h1.4M384 116h1.4M293 117h1.4M297 117h1.4M300 117h1.4M303 117h4.4M308 117h5.4M315 117h20.4M336 117h3.4M341 117h3.4M372 117h1.4M292 118h2.4M298 118h1.4M303 118h17.4M321 118h1.4M323 118h13.4M337 118h5.4M343 118h1.4M345 118h1.4M349 118h1.4M373 118h1.4M375 118h1.4M381 118h1.4M385 118h1.4M389 118h1.4M292 119h3.4M297 119h1.4M301 119h3.4M305 119h3.4M309 119h23.4M333 119h4.4M338 119h6.4M345 119h1.4M347 119h1.4M349 119h1.4M364 119h1.4M372 119h2.4M376 119h2.4M292 120h2.4M296 120h2.4M299 120h1.4M303 120h5.4M309 120h36.4M347 120h1.4M349 120h1.4M352 120h1.4M354 120h1.4M364 120h1.4M367 120h1.4M370 120h1.4M372 120h1.4M375 120h1.4M377 120h1.4M292 121h1.4M295 121h2.4M298 121h2.4M301 121h4.4M306 121h4.4M311 121h30.4M342 121h5.4M359 121h1.4M361 121h1.4M372 121h1.4M379 121h1.4M381 121h1.4M384 121h1.4M292 122h3.4M296 122h2.4M301 122h2.4M304 122h1.4M306 122h1.4M308 122h1.4M310 122h31.4M342 122h5.4M351 122h1.4M361 122h1.4M365 122h2.4M368 122h1.4M370 122h1.4M292 123h2.4M295 123h1.4M297 123h1.4M299 123h2.4M302 123h3.4M306 123h30.4M337 123h7.4M347 123h2.4M351 123h1.4M354 123h1.4M361 123h1.4M371 123h1.4M373 123h1.4M379 123h1.4M382 123h1.4M384 123h1.4M292 124h4.4M297 124h5.4M304 124h2.4M307 124h30.4M338 124h3.4M342 124h6.4M362 124h2.4M367 124h1.4M370 124h2.4M376 124h1.4M292 125h2.4M296 125h2.4M299 125h1.4M303 125h42.4M347 125h2.4M350 125h1.4M355 125h1.4M362 125h1.4M365 125h2.4M371 125h1.4M373 125h1.4M376 125h1.4M378 125h1.4M382 125h1.4M292 126h3.4M299 126h1.4M301 126h1.4M303 126h8.4M312 126h30.4M343 126h1.4M345 126h1.4M351 126h2.4M356 126h1.4M359 126h1.4M361 126h1.4M364 126h1.4M368 126h3.4M375 126h2.4M381 126h2.4M385 126h2.4M393 126h1.4M292 127h7.4M301 127h2.4M304 127h5.4M310 127h36.4M358 127h1.4M363 127h2.4M366 127h2.4M373 127h2.4M378 127h1.4M383 127h3.4M292 128h2.4M295 128h11.4M307 128h1.4M309 128h33.4M344 128h2.4M349 128h1.4M363 128h1.4M368 128h2.4M373 128h2.4M376 128h3.4M380 128h1.4M387 128h1.4M412 128h1.4M292 129h5.4M299 129h3.4M303 129h45.4M351 129h1.4M362 129h1.4M367 129h1.4M369 129h1.4M385 129h1.4M292 130h3.4M297 130h4.4M302 130h43.4M346 130h2.4M353 130h1.4M359 130h1.4M361 130h1.4M363 130h2.4M366 130h2.4M369 130h1.4M372 130h1.4M374 130h1.4M376 130h1.4M380 130h2.4M292 131h46.4M339 131h6.4M347 131h1.4M350 131h2.4M353 131h1.4M356 131h2.4M368 131h1.4M370 131h2.4M376 131h1.4M378 131h2.4M382 131h1.4M384 131h1.4M388 131h1.4M390 131h1.4M394 131h1.4M398 131h1.4M292 132h3.4M297 132h5.4M303 132h35.4M339 132h6.4M351 132h1.4M356 132h1.4M360 132h3.4M367 132h1.4M369 132h2.4M372 132h1.4M374 132h1.4M377 132h2.4M384 132h1.4M400 132h1.4M292 133h6.4M299 133h1.4M301 133h1.4M303 133h9.4M313 133h36.4M356 133h1.4M366 133h1.4M371 133h1.4M374 133h4.4M379 133h1.4M381 133h2.4M385 133h1.4M390 133h1.4M292 134h2.4M296 134h3.4M300 134h43.4M344 134h5.4M351 134h1.4M353 134h2.4M358 134h1.4M366 134h4.4M371 134h1.4M373 134h1.4M376 134h3.4M380 134h1.4M382 134h1.4M384 134h1.4M386 134h1.4M391 134h1.4M292 135h7.4M300 135h1.4M302 135h1.4M304 135h5.4M310 135h32.4M343 135h1.4M345 135h1.4M352 135h2.4M355 135h1.4M358 135h1.4M364 135h1.4M367 135h2.4M370 135h1.4M373 135h1.4M376 135h1.4M380 135h1.4M389 135h1.4M293 136h1.4M295 136h1.4M298 136h37.4M336 136h8.4M346 136h2.4M351 136h1.4M355 136h1.4M365 136h1.4M367 136h1.4M370 136h1.4M372 136h1.4M375 136h4.4M381 136h1.4M385 136h1.4M391 136h1.4M292 137h4.4M297 137h2.4M300 137h1.4M302 137h41.4M344 137h1.4M346 137h1.4M349 137h2.4M358 137h1.4M365 137h1.4M368 137h1.4M370 137h2.4M374 137h2.4M377 137h1.4M380 137h1.4M382 137h2.4M385 137h1.4M390 137h2.4M292 138h2.4M297 138h4.4M302 138h41.4M344 138h1.4M346 138h1.4M348 138h2.4M352 138h1.4M360 138h1.4M364 138h1.4M367 138h2.4M371 138h1.4M376 138h1.4M380 138h2.4M385 138h1.4M387 138h1.4M397 138h1.4M414 138h1.4M292 139h4.4M298 139h6.4M305 139h23.4M329 139h9.4M339 139h5.4M345 139h1.4M347 139h3.4M351 139h1.4M361 139h1.4M363 139h2.4M366 139h1.4M368 139h1.4M370 139h1.4M374 139h1.4M379 139h2.4M383 139h1.4M387 139h1.4M390 139h1.4M396 139h1.4M292 140h3.4M296 140h3.4M300 140h2.4M303 140h5.4M309 140h5.4M315 140h27.4M343 140h1.4M345 140h1.4M347 140h1.4M359 140h1.4M372 140h1.4M374 140h2.4M377 140h3.4M387 140h1.4M292 141h7.4M300 141h2.4M303 141h6.4M310 141h15.4M326 141h6.4M333 141h5.4M339 141h2.4M344 141h1.4M346 141h2.4M350 141h1.4M357 141h1.4M362 141h2.4M368 141h1.4M371 141h1.4M373 141h1.4M380 141h1.4M292 142h4.4M300 142h4.4M305 142h1.4M307 142h5.4M313 142h1.4M315 142h19.4M335 142h7.4M343 142h3.4M348 142h1.4M351 142h2.4M358 142h1.4M368 142h1.4M376 142h1.4M378 142h3.4M382 142h1.4M384 142h1.4M386 142h1.4M397 142h1.4M292 143h2.4M295 143h1.4M297 143h3.4M301 143h1.4M303 143h5.4M309 143h27.4M337 143h8.4M350 143h1.4M359 143h1.4M364 143h1.4M373 143h2.4M382 143h1.4M385 143h2.4M292 144h3.4M296 144h4.4M302 144h30.4M333 144h6.4M341 144h3.4M345 144h1.4M351 144h2.4M356 144h1.4M367 144h1.4M369 144h1.4M371 144h2.4M375 144h2.4M379 144h1.4M387 144h1.4M392 144h1.4M294 145h5.4M301 145h3.4M305 145h1.4M307 145h2.4M311 145h6.4M318 145h1.4M320 145h22.4M344 145h1.4M365 145h1.4M367 145h1.4M371 145h3.4M375 145h1.4M292 146h2.4M295 146h1.4M297 146h4.4M303 146h1.4M305 146h1.4M307 146h8.4M316 146h12.4M329 146h13.4M343 146h1.4M346 146h1.4M354 146h1.4M363 146h2.4M370 146h1.4M378 146h1.4M384 146h1.4M394 146h1.4M292 147h3.4M296 147h2.4M300 147h5.4M306 147h3.4M310 147h23.4M334 147h2.4M337 147h1.4M340 147h2.4M346 147h1.4M348 147h1.4M362 147h1.4M370 147h1.4M382 147h1.4M389 147h1.4M292 148h1.4M294 148h4.4M301 148h11.4M313 148h31.4M345 148h1.4M348 148h1.4M377 148h1.4M292 149h2.4M297 149h1.4M299 149h2.4M303 149h1.4M305 149h2.4M308 149h3.4M312 149h1.4M314 149h10.4M325 149h2.4M328 149h8.4M337 149h1.4M339 149h4.4M346 149h1.4M364 149h1.4M372 149h1.4M377 149h1.4M379 149h1.4M293 150h1.4M297 150h3.4M302 150h4.4M307 150h3.4M311 150h4.4M316 150h11.4M328 150h4.4M335 150h2.4M339 150h2.4M342 150h1.4M344 150h2.4M368 150h1.4M292 151h1.4M298 151h2.4M304 151h1.4M306 151h3.4M310 151h5.4M316 151h1.4M318 151h2.4M322 151h1.4M324 151h1.4M326 151h1.4M328 151h2.4M331 151h2.4M334 151h4.4M339 151h1.4M342 151h1.4M366 151h1.4M377 151h1.4M292 152h5.4M299 152h5.4M306 152h19.4M326 152h3.4M330 152h1.4M335 152h1.4M337 152h2.4M341 152h3.4M345 152h2.4M348 152h1.4M350 152h1.4M355 152h1.4M375 152h1.4M292 153h1.4M294 153h1.4M297 153h1.4M301 153h1.4M303 153h3.4M307 153h4.4M312 153h7.4M320 153h1.4M322 153h1.4M326 153h4.4M332 153h6.4M344 153h1.4M349 153h1.4M369 153h1.4M386 153h1.4M292 154h2.4M296 154h1.4M298 154h6.4M307 154h1.4M309 154h8.4M319 154h3.4M323 154h2.4M326 154h7.4M335 154h1.4M337 154h3.4M341 154h1.4M374 154h1.4M378 154h1.4M293 155h1.4M299 155h5.4M307 155h1.4M313 155h6.4M320 155h2.4M323 155h2.4M328 155h1.4M330 155h1.4M332 155h1.4M334 155h1.4M336 155h3.4M292 156h3.4M301 156h1.4M306 156h5.4M312 156h2.4M317 156h3.4M321 156h2.4M324 156h1.4M326 156h1.4M329 156h4.4M334 156h1.4M380 156h1.4M292 157h3.4M298 157h1.4M301 157h3.4M307 157h2.4M310 157h2.4M313 157h1.4M316 157h3.4M322 157h2.4M326 157h1.4M328 157h1.4M330 157h3.4M335 157h2.4M292 158h3.4M296 158h1.4M298 158h1.4M300 158h3.4M304 158h1.4M307 158h1.4M309 158h1.4M312 158h8.4M321 158h1.4M323 158h1.4M325 158h2.4M328 158h1.4M334 158h2.4M342 158h1.4M395 158h1.4M292 159h5.4M299 159h2.4M302 159h1.4M304 159h1.4M306 159h1.4M308 159h2.4M311 159h3.4M318 159h4.4M326 159h1.4M328 159h1.4M336 159h1.4M342 159h1.4M346 159h1.4M374 159h1.4M292 160h2.4M296 160h2.4M299 160h2.4M302 160h1.4M306 160h2.4M313 160h2.4M317 160h5.4M325 160h1.4M328 160h2.4M331 160h2.4M335 160h1.4M339 160h2.4M353 160h1.4M362 160h1.4M372 160h1.4M292 161h2.4M297 161h1.4M304 161h5.4M310 161h2.4M313 161h2.4M316 161h1.4M320 161h3.4M324 161h3.4M328 161h2.4M332 161h1.4M345 161h1.4M378 161h1.4M292 162h2.4M296 162h4.4M303 162h3.4M307 162h6.4M315 162h1.4M317 162h4.4M323 162h1.4M325 162h1.4M327 162h1.4M330 162h2.4M333 162h1.4M336 162h1.4M346 162h1.4M292 163h3.4M297 163h2.4M300 163h2.4M303 163h6.4M311 163h2.4M314 163h1.4M319 163h1.4M323 163h1.4M326 163h1.4M329 163h1.4M345 163h1.4M292 164h1.4M295 164h3.4M303 164h3.4M308 164h3.4M312 164h2.4M315 164h1.4M317 164h3.4M321 164h2.4M324 164h2.4M328 164h1.4M331 164h2.4M354 164h1.4M292 165h2.4M296 165h1.4M300 165h3.4M305 165h4.4M310 165h2.4M314 165h2.4M318 165h4.4M324 165h1.4M331 165h1.4M333 165h1.4M377 165h1.4M292 166h1.4M294 166h1.4M296 166h1.4M304 166h2.4M308 166h4.4M313 166h1.4M316 166h4.4M323 166h2.4M327 166h2.4M342 166h1.4M368 166h1.4M400 166h1.4M412 166h1.4M292 167h2.4M299 167h1.4M302 167h1.4M305 167h1.4M308 167h2.4M312 167h3.4M316 167h5.4M325 167h1.4M328 167h3.4M333 167h1.4M335 167h1.4M339 167h1.4M292 168h3.4M298 168h1.4M307 168h1.4M309 168h1.4M312 168h1.4M326 168h1.4M329 168h1.4M331 168h2.4M400 168h1.4M410 168h1.4M292 169h1.4M298 169h1.4M300 169h1.4M303 169h1.4M305 169h1.4M307 169h2.4M313 169h1.4M316 169h3.4M322 169h2.4M325 169h1.4M327 169h1.4M330 169h1.4M338 169h1.4M292 170h2.4M296 170h1.4M301 170h3.4M306 170h5.4M312 170h7.4M320 170h2.4M324 170h1.4M326 170h1.4M332 170h1.4M338 170h1.4M293 171h1.4M296 171h1.4M298 171h3.4M302 171h1.4M304 171h2.4M308 171h1.4M310 171h8.4M319 171h4.4M325 171h1.4M327 171h3.4M331 171h1.4M292 172h1.4M294 172h1.4M297 172h2.4M300 172h2.4M303 172h1.4M305 172h6.4M312 172h1.4M314 172h2.4M317 172h1.4M319 172h3.4M323 172h1.4M325 172h1.4M333 172h1.4M338 172h1.4M292 173h1.4M294 173h1.4M296 173h1.4M301 173h3.4M308 173h4.4M314 173h1.4M316 173h1.4M318 173h1.4M320 173h2.4M326 173h2.4M329 173h3.4M397 173h1.4M292 174h2.4M295 174h1.4M297 174h1.4M305 174h3.4M309 174h5.4M317 174h1.4M319 174h1.4M321 174h1.4M323 174h1.4M329 174h2.4M332 174h1.4M340 174h1.4M348 174h1.4M292 175h3.4M297 175h3.4M301 175h3.4M306 175h1.4M308 175h1.4M313 175h1.4M315 175h2.4M318 175h3.4M322 175h1.4M325 175h2.4M328 175h1.4M339 175h2.4M344 175h1.4M402 175h1.4M292 176h1.4M294 176h1.4M296 176h1.4M299 176h1.4M302 176h1.4M306 176h2.4M310 176h3.4M314 176h2.4M320 176h2.4M325 176h1.4M327 176h1.4M329 176h1.4M347 176h1.4M385 176h1.4M292 177h2.4M297 177h3.4M303 177h3.4M309 177h3.4M313 177h3.4M318 177h3.4M323 177h2.4M326 177h3.4M335 177h1.4M337 177h1.4M390 177h1.4M292 178h4.4M297 178h1.4M299 178h1.4M301 178h1.4M303 178h2.4M306 178h2.4M312 178h1.4M315 178h1.4M317 178h2.4M322 178h3.4M327 178h2.4M330 178h3.4M334 178h1.4M336 178h1.4M341 178h1.4M377 178h1.4M292 179h2.4M299 179h1.4M301 179h1.4M304 179h1.4M306 179h2.4M309 179h2.4M312 179h5.4M318 179h1.4M324 179h1.4M327 179h1.4M338 179h1.4M292 180h1.4M295 180h1.4M300 180h1.4M302 180h1.4M304 180h2.4M308 180h3.4M312 180h3.4M322 180h2.4M328 180h1.4M330 180h1.4M336 180h1.4M341 180h1.4M347 180h1.4M382 180h1.4M401 180h1.4M403 180h1.4M293 181h3.4M298 181h1.4M303 181h1.4M305 181h1.4M307 181h3.4M312 181h1.4M314 181h3.4M319 181h2.4M322 181h1.4M325 181h1.4M328 181h3.4M334 181h1.4M336 181h1.4M347 181h1.4M370 181h1.4M374 181h1.4M415 181h1.4M292 182h3.4M299 182h1.4M301 182h1.4M303 182h1.4M305 182h4.4M310 182h4.4M315 182h2.4M320 182h1.4M324 182h1.4M328 182h2.4M357 182h1.4M378 182h1.4M390 182h1.4M292 183h1.4M295 183h1.4M298 183h2.4M302 183h2.4M305 183h3.4M315 183h1.4M317 183h2.4M325 183h6.4M340 183h1.4M388 183h1.4M292 184h4.4M297 184h1.4M300 184h2.4M304 184h2.4M307 184h9.4M317 184h2.4M320 184h5.4M329 184h1.4M334 184h1.4M356 184h1.4M364 184h1.4M368 184h1.4M386 184h1.4M292 185h1.4M296 185h1.4M301 185h2.4M304 185h1.4M308 185h3.4M312 185h1.4M314 185h1.4M316 185h5.4M322 185h1.4M324 185h2.4M327 185h2.4M334 185h1.4M338 185h1.4M349 185h1.4M356 185h1.4M292 186h2.4M295 186h2.4M299 186h2.4M304 186h1.4M308 186h3.4M313 186h2.4M316 186h1.4M318 186h1.4M320 186h1.4M323 186h2.4M331 186h1.4M335 186h1.4M337 186h1.4M344 186h1.4M292 187h2.4M296 187h1.4M300 187h3.4M304 187h1.4M306 187h8.4M315 187h1.4M317 187h1.4M319 187h1.4M321 187h3.4M326 187h1.4M330 187h1.4M339 187h1.4M353 187h1.4M362 187h1.4M381 187h1.4M292 188h3.4M300 188h1.4M302 188h2.4M305 188h2.4M308 188h2.4M311 188h1.4M313 188h2.4M318 188h3.4M322 188h3.4M333 188h2.4M342 188h1.4M347 188h1.4M356 188h1.4M368 188h1.4M370 188h1.4M374 188h1.4M292 189h1.4M295 189h4.4M301 189h1.4M305 189h2.4M308 189h1.4M311 189h1.4M314 189h2.4M317 189h2.4M320 189h1.4M326 189h1.4M329 189h1.4M333 189h1.4M347 189h1.4M365 189h1.4M368 189h1.4M377 189h1.4M293 190h3.4M299 190h5.4M305 190h2.4M309 190h1.4M312 190h2.4M315 190h1.4M319 190h4.4M324 190h6.4M331 190h1.4M333 190h1.4M336 190h1.4M368 190h1.4M370 190h1.4M375 190h2.4M294 191h4.4M302 191h1.4M305 191h6.4M314 191h1.4M316 191h2.4M320 191h1.4M323 191h4.4M333 191h2.4M338 191h1.4M341 191h2.4M346 191h1.4M361 191h1.4M367 191h1.4M400 191h1.4M292 192h3.4M298 192h2.4M301 192h2.4M306 192h11.4M318 192h5.4M324 192h2.4M327 192h2.4M330 192h1.4M336 192h1.4M339 192h1.4M341 192h2.4M345 192h1.4M407 192h1.4M292 193h2.4M298 193h2.4M303 193h1.4M305 193h6.4M312 193h14.4M327 193h2.4M330 193h1.4M332 193h2.4M353 193h1.4M360 193h2.4M292 194h3.4M297 194h1.4M301 194h2.4M304 194h6.4M313 194h2.4M316 194h1.4M318 194h4.4M326 194h1.4M334 194h2.4M341 194h1.4M344 194h2.4M352 194h1.4M360 194h2.4M365 194h1.4M407 194h1.4M292 195h1.4M295 195h1.4M297 195h1.4M299 195h2.4M302 195h1.4M306 195h3.4M310 195h1.4M312 195h6.4M321 195h2.4M325 195h1.4M334 195h1.4M338 195h1.4M341 195h1.4M350 195h1.4M359 195h1.4M367 195h2.4M379 195h1.4M292 196h2.4M296 196h1.4M299 196h3.4M303 196h6.4M310 196h1.4M312 196h4.4M319 196h3.4M324 196h1.4M332 196h1.4M334 196h2.4M339 196h1.4M344 196h1.4M357 196h1.4M365 196h1.4M397 196h1.4M292 197h2.4M296 197h2.4M302 197h1.4M304 197h1.4M306 197h5.4M315 197h4.4M322 197h5.4M330 197h1.4M334 197h3.4M339 197h1.4M348 197h1.4M361 197h1.4M377 197h1.4M410 197h1.4M292 198h1.4M294 198h1.4M296 198h3.4M302 198h1.4M305 198h1.4M307 198h3.4M311 198h1.4M313 198h4.4M320 198h2.4M323 198h2.4M327 198h1.4M330 198h1.4M332 198h1.4M336 198h1.4M338 198h1.4M347 198h1.4M349 198h2.4M354 198h1.4M363 198h1.4M374 198h1.4M384 198h1.4M388 198h2.4M398 198h1.4M292 199h5.4M298 199h1.4M300 199h1.4M302 199h1.4M304 199h1.4M306 199h1.4M309 199h2.4M313 199h1.4M316 199h2.4M320 199h2.4M324 199h4.4M333 199h1.4M339 199h1.4M377 199h1.4M292 200h3.4M296 200h1.4M298 200h1.4M300 200h2.4M303 200h1.4M307 200h8.4M316 200h1.4M319 200h2.4M322 200h3.4M331 200h1.4M333 200h2.4M338 200h1.4M342 200h2.4M348 200h1.4M359 200h1.4M375 200h1.4M381 200h2.4M388 200h1.4M293 201h2.4M299 201h2.4M306 201h1.4M308 201h1.4M310 201h1.4M313 201h2.4M316 201h1.4M318 201h3.4M322 201h1.4M324 201h1.4M327 201h1.4M342 201h1.4M344 201h1.4M354 201h1.4M400 201h1.4M292 202h2.4M296 202h1.4M298 202h1.4M302 202h1.4M306 202h1.4M311 202h2.4M314 202h2.4M320 202h2.4M323 202h1.4M325 202h1.4M327 202h2.4M330 202h2.4M334 202h1.4M339 202h2.4M363 202h1.4M377 202h1.4M383 202h1.4M385 202h1.4M387 202h1.4M292 203h2.4M295 203h1.4M298 203h1.4M300 203h9.4M311 203h6.4M319 203h1.4M321 203h2.4M329 203h2.4M333 203h2.4M344 203h1.4M347 203h1.4M349 203h1.4M369 203h1.4M374 203h1.4M376 203h2.4M293 204h2.4M297 204h2.4M302 204h2.4M306 204h2.4M309 204h1.4M311 204h8.4M320 204h1.4M322 204h1.4M325 204h1.4M327 204h2.4M331 204h2.4M334 204h1.4M337 204h1.4M341 204h1.4M345 204h1.4M349 204h1.4M365 204h1.4M373 204h2.4M393 204h1.4M292 205h2.4M296 205h2.4M301 205h1.4M303 205h3.4M307 205h13.4M323 205h5.4M334 205h1.4M338 205h1.4M345 205h2.4M354 205h1.4M361 205h1.4M374 205h1.4M376 205h1.4M379 205h1.4M297 206h1.4M299 206h1.4M301 206h1.4M304 206h3.4M308 206h1.4M310 206h3.4M314 206h3.4M318 206h2.4M321 206h2.4M324 206h1.4M327 206h1.4M330 206h1.4M333 206h2.4M345 206h1.4M352 206h1.4M384 206h1.4M292 207h3.4M298 207h3.4M303 207h1.4M305 207h3.4M310 207h2.4M316 207h1.4M318 207h4.4M324 207h1.4M326 207h5.4M336 207h1.4M344 207h2.4M358 207h1.4M366 207h1.4M373 207h1.4M379 207h1.4M292 208h3.4M296 208h3.4M302 208h1.4M304 208h2.4M307 208h2.4M310 208h3.4M315 208h1.4M317 208h2.4M320 208h3.4M326 208h1.4M328 208h2.4M334 208h2.4M337 208h1.4M340 208h1.4M346 208h1.4M349 208h1.4M351 208h1.4M360 208h2.4M375 208h1.4M378 208h1.4M292 209h3.4M299 209h3.4M304 209h3.4M308 209h3.4M312 209h1.4M318 209h1.4M321 209h3.4M326 209h1.4M329 209h1.4M334 209h1.4M341 209h1.4M367 209h1.4M369 209h1.4M378 209h1.4M292 210h2.4M300 210h3.4M306 210h1.4M308 210h4.4M313 210h1.4M315 210h9.4M325 210h1.4M327 210h3.4M332 210h4.4M340 210h1.4M343 210h1.4M350 210h1.4M357 210h1.4M368 210h1.4M371 210h1.4M379 210h1.4M383 210h1.4M389 210h1.4M391 210h1.4M292 211h2.4M296 211h1.4M298 211h2.4M302 211h1.4M304 211h2.4M307 211h5.4M313 211h1.4M315 211h2.4M318 211h1.4M320 211h6.4M327 211h2.4M330 211h2.4M333 211h2.4M337 211h1.4M342 211h1.4M348 211h1.4M357 211h1.4M369 211h1.4M372 211h1.4M374 211h1.4M382 211h1.4M385 211h1.4M293 212h1.4M295 212h2.4M298 212h1.4M300 212h1.4M303 212h1.4M305 212h2.4M308 212h1.4M310 212h1.4M315 212h1.4M317 212h3.4M323 212h1.4M325 212h2.4M328 212h3.4M335 212h1.4M337 212h1.4M339 212h1.4M344 212h1.4M349 212h1.4M356 212h1.4M363 212h1.4M368 212h1.4M373 212h1.4M381 212h1.4M292 213h2.4M296 213h5.4M302 213h1.4M304 213h4.4M310 213h1.4M312 213h7.4M320 213h2.4M324 213h1.4M326 213h5.4M332 213h2.4M336 213h1.4M339 213h1.4M344 213h1.4M349 213h1.4M361 213h1.4M368 213h1.4M382 213h2.4M392 213h1.4M297 214h1.4M299 214h1.4M303 214h2.4M306 214h1.4M308 214h4.4M313 214h1.4M316 214h4.4M323 214h1.4M325 214h5.4M332 214h1.4M336 214h1.4M340 214h1.4M355 214h1.4M357 214h2.4M365 214h1.4M368 214h1.4M371 214h4.4M376 214h1.4M382 214h1.4M395 214h1.4M404 214h1.4M423 214h1.4M292 215h2.4M295 215h1.4M298 215h2.4M301 215h2.4M304 215h10.4M315 215h7.4M323 215h3.4M328 215h1.4M330 215h1.4M333 215h1.4M335 215h1.4M338 215h1.4M342 215h1.4M355 215h1.4M369 215h1.4M372 215h1.4M374 215h1.4M292 216h1.4M297 216h3.4M301 216h1.4M303 216h6.4M310 216h1.4M312 216h1.4M314 216h10.4M325 216h7.4M336 216h3.4M341 216h1.4M360 216h1.4M362 216h1.4M367 216h1.4M371 216h1.4M374 216h1.4M378 216h1.4M380 216h2.4M292 217h2.4M295 217h1.4M299 217h1.4M302 217h2.4M305 217h1.4M308 217h1.4M310 217h8.4M319 217h2.4M322 217h5.4M328 217h2.4M332 217h2.4M335 217h2.4M343 217h1.4M365 217h1.4M369 217h1.4M373 217h1.4M375 217h1.4M388 217h1.4M392 217h1.4M292 218h2.4M295 218h16.4M312 218h3.4M316 218h2.4M320 218h8.4M330 218h3.4M337 218h2.4M355 218h1.4M361 218h1.4M363 218h1.4M365 218h1.4M367 218h3.4M374 218h1.4M382 218h1.4M292 219h2.4M298 219h2.4M301 219h6.4M308 219h4.4M313 219h5.4M319 219h2.4M322 219h6.4M331 219h2.4M338 219h4.4M345 219h1.4M348 219h1.4M357 219h1.4M362 219h1.4M365 219h1.4M367 219h1.4M375 219h2.4M391 219h1.4M292 220h2.4M298 220h1.4M300 220h1.4M302 220h4.4M307 220h1.4M309 220h4.4M314 220h2.4M317 220h9.4M328 220h1.4M332 220h1.4M334 220h1.4M341 220h3.4M352 220h1.4M364 220h2.4M369 220h1.4M373 220h1.4M380 220h1.4M386 220h1.4M425 220h1.4M292 221h4.4M297 221h2.4M300 221h2.4M303 221h2.4M306 221h2.4M309 221h13.4M323 221h2.4M326 221h3.4M330 221h1.4M334 221h1.4M337 221h1.4M340 221h1.4M347 221h1.4M354 221h1.4M372 221h2.4M292 222h2.4M295 222h3.4M299 222h9.4M309 222h15.4M325 222h1.4M328 222h1.4M331 222h1.4M334 222h1.4M337 222h1.4M339 222h4.4M350 222h1.4M355 222h1.4M357 222h1.4M359 222h2.4M363 222h2.4M371 222h1.4M378 222h1.4M382 222h1.4M403 222h1.4M292 223h2.4M295 223h1.4M297 223h3.4M301 223h1.4M303 223h6.4M310 223h17.4M328 223h1.4M333 223h3.4M339 223h2.4M351 223h1.4M355 223h1.4M357 223h1.4M360 223h1.4M363 223h1.4M365 223h2.4M371 223h1.4M375 223h1.4M384 223h1.4M292 224h4.4M297 224h4.4M302 224h1.4M304 224h4.4M309 224h1.4M312 224h18.4M331 224h2.4M335 224h1.4M342 224h1.4M344 224h3.4M356 224h2.4M361 224h2.4M369 224h1.4M374 224h1.4M376 224h1.4M378 224h1.4M381 224h1.4M292 225h4.4M297 225h2.4M300 225h4.4M305 225h5.4M311 225h10.4M322 225h6.4M330 225h1.4M335 225h2.4M345 225h2.4M349 225h1.4M371 225h1.4M380 225h1.4M382 225h1.4M292 226h2.4M295 226h1.4M297 226h2.4M300 226h7.4M308 226h3.4M312 226h10.4M323 226h1.4M325 226h1.4M328 226h2.4M332 226h1.4M334 226h1.4M336 226h4.4M341 226h1.4M343 226h1.4M348 226h1.4M353 226h1.4M356 226h1.4M360 226h1.4M366 226h2.4M371 226h1.4M375 226h1.4M381 226h1.4M397 226h1.4M292 227h3.4M296 227h3.4M301 227h22.4M324 227h1.4M326 227h1.4M329 227h4.4M335 227h3.4M346 227h1.4M354 227h2.4M359 227h1.4M366 227h2.4M386 227h1.4M394 227h1.4M292 228h3.4M298 228h16.4M315 228h1.4M317 228h9.4M327 228h1.4M330 228h1.4M332 228h1.4M334 228h1.4M337 228h4.4M345 228h3.4M350 228h1.4M360 228h2.4M365 228h3.4M384 228h1.4M292 229h2.4M295 229h3.4M300 229h12.4M313 229h2.4M316 229h3.4M320 229h6.4M327 229h3.4M331 229h1.4M333 229h3.4M338 229h2.4M344 229h1.4M354 229h2.4M358 229h3.4M371 229h1.4M385 229h1.4M292 230h2.4M295 230h37.4M333 230h2.4M337 230h1.4M340 230h2.4M356 230h1.4M368 230h4.4M373 230h1.4M382 230h1.4M386 230h1.4M391 230h1.4M292 231h2.4M296 231h36.4M335 231h1.4M338 231h5.4M344 231h1.4M350 231h1.4M352 231h1.4M356 231h1.4M362 231h1.4M376 231h1.4M383 231h1.4M390 231h1.4M401 231h1.4M292 232h6.4M299 232h3.4M303 232h3.4M308 232h13.4M322 232h6.4M329 232h7.4M338 232h4.4M344 232h1.4M346 232h1.4M350 232h2.4M354 232h2.4M357 232h1.4M360 232h1.4M368 232h1.4M379 232h1.4M403 232h1.4M292 233h8.4M301 233h6.4M308 233h15.4M324 233h8.4M335 233h1.4M338 233h1.4M341 233h1.4M343 233h3.4M347 233h1.4M355 233h1.4M361 233h1.4M368 233h1.4M375 233h1.4M377 233h2.4M292 234h2.4M296 234h2.4M299 234h26.4M326 234h4.4M331 234h1.4M335 234h1.4M337 234h8.4M347 234h4.4M360 234h1.4M368 234h1.4M371 234h2.4M376 234h1.4M292 235h4.4M297 235h6.4M304 235h23.4M328 235h6.4M338 235h2.4M346 235h1.4M350 235h1.4M358 235h1.4M369 235h2.4M379 235h1.4M384 235h1.4M386 235h1.4M389 235h1.4M292 236h9.4M302 236h21.4M324 236h1.4M326 236h4.4M331 236h1.4M333 236h3.4M337 236h2.4M340 236h1.4M342 236h2.4M348 236h1.4M353 236h2.4M367 236h1.4M373 236h1.4M382 236h1.4M386 236h1.4M292 237h3.4M296 237h4.4M302 237h21.4M324 237h1.4M326 237h4.4M331 237h2.4M335 237h1.4M337 237h2.4M341 237h2.4M359 237h1.4M382 237h1.4M390 237h1.4M292 238h9.4M302 238h4.4M307 238h19.4M327 238h6.4M334 238h1.4M336 238h3.4M340 238h2.4M349 238h1.4M364 238h1.4M388 238h1.4M293 239h6.4M300 239h4.4M305 239h5.4M311 239h12.4M324 239h2.4M327 239h7.4M336 239h2.4M341 239h1.4M344 239h1.4M346 239h2.4M354 239h1.4M374 239h1.4M377 239h2.4M383 239h1.4M292 240h5.4M299 240h24.4M324 240h2.4M328 240h2.4M331 240h2.4M335 240h1.4M339 240h2.4M358 240h1.4M363 240h1.4M367 240h1.4M405 240h2.4M292 241h2.4M295 241h4.4M300 241h5.4M306 241h25.4M332 241h4.4M338 241h3.4M344 241h1.4M357 241h1.4M360 241h1.4M372 241h2.4M376 241h1.4M387 241h1.4M392 241h1.4M292 242h3.4M296 242h21.4M318 242h9.4M328 242h6.4M335 242h4.4M340 242h1.4M344 242h1.4M358 242h1.4M360 242h1.4M292 243h4.4M297 243h5.4M303 243h4.4M308 243h15.4M324 243h5.4M330 243h2.4M334 243h3.4M340 243h1.4M343 243h1.4M349 243h1.4M354 243h1.4M366 243h2.4M369 243h1.4M372 243h1.4M380 243h1.4M392 243h1.4M292 244h2.4M295 244h3.4M299 244h22.4M322 244h6.4M329 244h2.4M332 244h3.4M336 244h1.4M341 244h1.4M352 244h1.4M358 244h3.4M363 244h1.4M292 245h1.4M294 245h2.4M297 245h11.4M309 245h24.4M334 245h2.4M337 245h1.4M339 245h3.4M343 245h1.4M347 245h1.4M370 245h2.4M380 245h1.4M386 245h1.4M292 246h11.4M304 246h14.4M319 246h3.4M323 246h6.4M331 246h1.4M333 246h1.4M335 246h2.4M338 246h1.4M344 246h1.4M352 246h1.4M359 246h1.4M369 246h1.4M374 246h1.4M378 246h3.4M385 246h1.4M292 247h10.4M303 247h3.4M307 247h6.4M314 247h12.4M327 247h1.4M329 247h2.4M332 247h4.4M339 247h1.4M342 247h1.4M354 247h1.4M357 247h1.4M370 247h1.4M372 247h1.4M381 247h1.4M292 248h5.4M299 248h28.4M328 248h1.4M330 248h3.4M334 248h2.4M337 248h1.4M340 248h2.4M351 248h1.4M356 248h1.4M370 248h1.4M372 248h1.4M374 248h2.4M293 249h3.4M297 249h7.4M305 249h20.4M326 249h1.4M329 249h3.4M333 249h2.4M337 249h1.4M342 249h1.4M346 249h1.4M350 249h1.4M356 249h1.4M365 249h1.4M373 249h1.4M292 250h3.4M296 250h6.4M303 250h20.4M324 250h2.4M329 250h2.4M332 250h1.4M335 250h1.4M340 250h5.4M349 250h1.4M351 250h2.4M354 250h1.4M356 250h1.4M363 250h1.4M366 250h1.4M389 250h1.4M292 251h2.4M296 251h9.4M306 251h13.4M320 251h8.4M329 251h2.4M333 251h6.4M340 251h1.4M347 251h1.4M349 251h1.4M351 251h1.4M358 251h1.4M292 252h4.4M297 252h12.4M310 252h14.4M325 252h3.4M329 252h2.4M336 252h2.4M341 252h1.4M346 252h1.4M348 252h1.4M353 252h1.4M357 252h1.4M359 252h1.4M292 253h8.4M301 253h5.4M307 253h2.4M310 253h2.4M313 253h1.4M315 253h6.4M322 253h2.4M326 253h5.4M332 253h4.4M340 253h1.4M343 253h2.4M364 253h1.4M372 253h3.4M386 253h1.4M388 253h1.4M292 254h1.4M294 254h9.4M304 254h29.4M334 254h3.4M341 254h1.4M355 254h1.4M357 254h1.4M364 254h1.4M368 254h1.4M292 255h4.4M297 255h5.4M305 255h2.4M308 255h4.4M313 255h12.4M326 255h2.4M329 255h1.4M331 255h3.4M337 255h1.4M349 255h1.4M366 255h1.4M374 255h1.4M292 256h7.4M301 256h2.4M304 256h3.4M309 256h10.4M320 256h4.4M325 256h1.4M327 256h3.4M331 256h2.4M334 256h1.4M336 256h1.4M338 256h2.4M341 256h1.4M356 256h1.4M359 256h1.4M361 256h1.4M292 257h2.4M295 257h2.4M298 257h6.4M305 257h2.4M308 257h6.4M315 257h7.4M323 257h3.4M327 257h3.4M331 257h2.4M337 257h2.4M342 257h3.4M346 257h1.4M350 257h2.4M353 257h1.4M361 257h1.4M365 257h1.4M377 257h1.4M387 257h1.4M292 258h3.4M296 258h3.4M300 258h5.4M306 258h6.4M313 258h5.4M319 258h1.4M321 258h9.4M331 258h1.4M333 258h1.4M335 258h2.4M342 258h1.4M344 258h1.4M357 258h1.4M372 258h1.4M292 259h2.4M295 259h1.4M298 259h2.4M301 259h1.4M304 259h2.4M307 259h19.4M327 259h1.4M330 259h1.4M332 259h1.4M336 259h1.4M347 259h2.4M372 259h1.4M296 260h6.4M303 260h1.4M307 260h1.4M310 260h3.4M314 260h16.4M336 260h1.4M340 260h1.4M343 260h3.4M387 260h1.4M292 261h2.4M297 261h2.4M301 261h1.4M303 261h3.4M307 261h17.4M325 261h2.4M328 261h1.4M331 261h2.4M338 261h1.4M341 261h1.4M361 261h1.4M372 261h1.4M292 262h3.4M296 262h3.4M302 262h4.4M307 262h3.4M311 262h3.4M315 262h2.4M318 262h2.4M321 262h4.4M326 262h2.4M329 262h3.4M333 262h1.4M337 262h3.4M342 262h1.4M345 262h1.4M351 262h1.4M362 262h2.4M370 262h1.4M374 262h1.4M292 263h3.4M297 263h3.4M301 263h6.4M309 263h8.4M318 263h2.4M321 263h1.4M323 263h1.4M325 263h1.4M327 263h1.4M330 263h1.4M333 263h4.4M293 264h1.4M295 264h3.4M300 264h1.4M302 264h1.4M304 264h2.4M307 264h1.4M309 264h1.4M312 264h2.4M315 264h6.4M323 264h3.4M327 264h3.4M333 264h1.4M336 264h1.4M339 264h1.4M375 264h1.4M296 265h1.4M299 265h1.4M301 265h2.4M304 265h1.4M307 265h3.4M311 265h2.4M314 265h3.4M318 265h6.4M326 265h1.4M333 265h3.4M337 265h1.4M339 265h1.4M343 265h1.4M367 265h1.4M293 266h1.4M296 266h1.4M299 266h1.4M302 266h3.4M306 266h1.4M308 266h2.4M311 266h1.4M314 266h1.4M316 266h1.4M319 266h1.4M321 266h1.4M324 266h3.4M328 266h1.4M330 266h1.4M332 266h1.4M351 266h1.4M356 266h1.4M365 266h1.4M292 267h3.4M298 267h3.4M304 267h1.4M306 267h2.4M309 267h8.4M318 267h4.4M327 267h4.4M335 267h1.4M292 268h2.4M295 268h2.4M298 268h2.4M301 268h3.4M305 268h1.4M307 268h1.4M316 268h4.4M322 268h1.4M324 268h2.4M327 268h1.4M330 268h2.4M334 268h2.4M338 268h1.4M340 268h1.4M292 269h2.4M296 269h2.4M302 269h1.4M304 269h4.4M309 269h8.4M318 269h1.4M320 269h1.4M324 269h3.4M328 269h1.4M334 269h1.4M336 269h1.4M346 269h1.4M350 269h1.4M370 269h1.4" stroke="#000" stroke-width="1.4" fill="none"/>
<path transform="scale(0.5) translate(0,0.5)" d="M679 100h1.7M643 106h1.7M708 108h1.7M636 109h1.7M661 111h1.7M738 113h1.7M652 114h1.7M670 114h2.7M702 115h1.7M752 116h1.7M733 117h1.7M643 120h1.7M650 120h1.7M652 120h1.7M627 121h1.7M646 121h1.7M652 121h1.7M654 121h1.7M660 121h1.7M632 122h2.7M659 122h1.7M671 122h1.7M671 123h1.7M652 124h1.7M654 124h1.7M658 124h2.7M629 125h1.7M640 125h1.7M659 125h1.7M667 125h1.7M697 125h1.7M642 126h1.7M649 126h1.7M653 126h1.7M655 126h1.7M661 126h1.7M664 126h2.7M670 126h1.7M630 127h1.7M653 127h1.7M660 127h1.7M634 128h1.7M646 128h1.7M668 128h2.7M698 128h1.7M715 128h1.7M642 129h1.7M644 129h1.7M648 129h2.7M651 129h1.7M660 129h1.7M662 129h1.7M670 129h1.7M678 129h1.7M687 129h1.7M658 130h1.7M662 130h1.7M669 130h1.7M672 130h1.7M686 130h1.7M710 130h1.7M713 130h1.7M744 130h1.7M623 131h1.7M648 131h1.7M650 131h1.7M653 131h1.7M657 131h1.7M661 131h1.7M664 131h3.7M671 131h1.7M677 131h1.7M631 132h1.7M654 132h1.7M660 132h1.7M666 132h1.7M676 132h2.7M738 132h1.7M644 133h1.7M651 133h2.7M655 133h1.7M661 133h1.7M673 133h1.7M676 133h1.7M686 133h1.7M633 134h1.7M639 134h1.7M656 134h2.7M661 134h1.7M664 134h2.7M667 134h1.7M670 134h1.7M672 134h1.7M675 134h1.7M677 134h1.7M685 134h1.7M710 134h1.7M731 134h1.7M638 135h1.7M640 135h1.7M646 135h1.7M653 135h3.7M660 135h1.7M662 135h1.7M670 135h2.7M673 135h1.7M688 135h1.7M751 135h1.7M620 136h1.7M633 136h1.7M646 136h1.7M649 136h1.7M651 136h1.7M655 136h1.7M658 136h2.7M662 136h1.7M664 136h4.7M671 136h1.7M675 136h1.7M683 136h1.7M646 137h1.7M652 137h1.7M666 137h2.7M669 137h1.7M671 137h1.7M676 137h2.7M701 137h2.7M706 137h2.7M720 137h1.7M735 137h1.7M748 137h1.7M620 138h1.7M626 138h1.7M640 138h1.7M648 138h1.7M650 138h1.7M655 138h1.7M659 138h2.7M662 138h4.7M672 138h2.7M676 138h2.7M679 138h1.7M681 138h1.7M700 138h1.7M703 138h1.7M726 138h1.7M728 138h1.7M735 138h1.7M741 138h1.7M644 139h1.7M647 139h1.7M653 139h1.7M656 139h2.7M659 139h2.7M662 139h2.7M667 139h1.7M669 139h2.7M677 139h1.7M681 139h1.7M716 139h1.7M718 139h1.7M630 140h1.7M638 140h1.7M649 140h1.7M658 140h1.7M661 140h3.7M665 140h1.7M668 140h2.7M673 140h1.7M710 140h1.7M718 140h1.7M720 140h1.7M619 141h1.7M639 141h1.7M649 141h1.7M653 141h5.7M659 141h1.7M661 141h1.7M663 141h3.7M667 141h2.7M670 141h2.7M675 141h2.7M679 141h1.7M687 141h1.7M701 141h1.7M703 141h1.7M723 141h1.7M754 141h1.7M616 142h1.7M642 142h1.7M644 142h1.7M648 142h1.7M651 142h1.7M655 142h5.7M661 142h2.7M665 142h2.7M668 142h4.7M675 142h1.7M680 142h1.7M693 142h1.7M704 142h1.7M710 142h2.7M722 142h1.7M622 143h1.7M634 143h1.7M636 143h1.7M641 143h2.7M648 143h1.7M651 143h1.7M654 143h3.7M658 143h3.7M663 143h4.7M668 143h1.7M670 143h1.7M674 143h2.7M706 143h1.7M708 143h1.7M717 143h1.7M720 143h1.7M727 143h2.7M734 143h1.7M747 143h1.7M750 143h1.7M631 144h1.7M636 144h1.7M645 144h1.7M647 144h1.7M659 144h9.7M670 144h1.7M673 144h2.7M691 144h1.7M710 144h1.7M715 144h1.7M719 144h1.7M725 144h1.7M728 144h1.7M775 144h1.7M634 145h1.7M653 145h2.7M658 145h1.7M660 145h1.7M662 145h2.7M666 145h3.7M670 145h1.7M673 145h1.7M679 145h1.7M690 145h1.7M695 145h1.7M697 145h1.7M709 145h1.7M716 145h1.7M720 145h1.7M735 145h1.7M620 146h1.7M624 146h2.7M631 146h1.7M634 146h1.7M639 146h1.7M648 146h1.7M653 146h1.7M655 146h2.7M658 146h2.7M661 146h3.7M665 146h3.7M669 146h1.7M671 146h1.7M708 146h1.7M712 146h1.7M719 146h1.7M622 147h2.7M628 147h1.7M640 147h1.7M644 147h2.7M647 147h1.7M649 147h1.7M651 147h4.7M656 147h3.7M661 147h3.7M665 147h2.7M668 147h2.7M674 147h2.7M689 147h1.7M696 147h1.7M699 147h1.7M701 147h1.7M708 147h1.7M719 147h1.7M748 147h1.7M770 147h1.7M613 148h1.7M645 148h1.7M648 148h1.7M652 148h3.7M656 148h5.7M663 148h4.7M668 148h3.7M672 148h3.7M677 148h1.7M679 148h2.7M682 148h1.7M701 148h1.7M715 148h1.7M766 148h1.7M630 149h1.7M647 149h3.7M652 149h1.7M656 149h1.7M658 149h4.7M665 149h1.7M667 149h1.7M669 149h4.7M676 149h1.7M690 149h1.7M699 149h2.7M703 149h1.7M713 149h1.7M715 149h1.7M723 149h1.7M729 149h1.7M633 150h2.7M640 150h1.7M642 150h1.7M644 150h1.7M647 150h1.7M652 150h3.7M656 150h2.7M659 150h8.7M669 150h2.7M673 150h2.7M678 150h1.7M682 150h1.7M695 150h1.7M705 150h1.7M738 150h1.7M622 151h1.7M638 151h1.7M645 151h2.7M649 151h1.7M651 151h3.7M658 151h7.7M666 151h1.7M668 151h4.7M673 151h1.7M677 151h1.7M679 151h1.7M684 151h1.7M703 151h1.7M712 151h1.7M715 151h1.7M718 151h2.7M628 152h1.7M630 152h2.7M643 152h1.7M650 152h2.7M653 152h2.7M656 152h1.7M660 152h2.7M664 152h8.7M673 152h3.7M684 152h1.7M695 152h1.7M698 152h1.7M621 153h1.7M624 153h1.7M637 153h1.7M643 153h2.7M649 153h1.7M652 153h1.7M654 153h1.7M656 153h1.7M661 153h2.7M664 153h3.7M668 153h2.7M673 153h1.7M682 153h1.7M687 153h1.7M696 153h1.7M699 153h1.7M701 153h1.7M706 153h1.7M714 153h1.7M719 153h1.7M722 153h1.7M724 153h2.7M730 153h1.7M743 153h1.7M633 154h1.7M636 154h1.7M643 154h3.7M652 154h2.7M656 154h1.7M659 154h1.7M661 154h5.7M670 154h1.7M676 154h1.7M678 154h1.7M686 154h1.7M729 154h1.7M735 154h1.7M763 154h1.7M615 155h1.7M637 155h1.7M639 155h2.7M656 155h2.7M660 155h1.7M662 155h1.7M664 155h3.7M672 155h1.7M676 155h2.7M680 155h1.7M686 155h1.7M696 155h1.7M703 155h1.7M719 155h1.7M721 155h2.7M748 155h1.7M624 156h1.7M649 156h1.7M654 156h2.7M657 156h1.7M661 156h4.7M666 156h1.7M668 156h1.7M671 156h1.7M673 156h1.7M681 156h1.7M722 156h1.7M640 157h3.7M651 157h4.7M660 157h1.7M664 157h1.7M666 157h1.7M670 157h1.7M680 157h1.7M682 157h1.7M707 157h1.7M721 157h1.7M731 157h1.7M613 158h1.7M639 158h1.7M645 158h1.7M649 158h1.7M658 158h2.7M662 158h1.7M667 158h2.7M685 158h1.7M703 158h1.7M720 158h1.7M732 158h1.7M617 159h1.7M621 159h1.7M632 159h1.7M636 159h1.7M638 159h1.7M644 159h1.7M647 159h1.7M654 159h2.7M658 159h1.7M660 159h1.7M665 159h2.7M675 159h1.7M677 159h1.7M679 159h1.7M685 159h1.7M707 159h1.7M718 159h1.7M722 159h2.7M626 160h1.7M643 160h2.7M651 160h1.7M653 160h2.7M663 160h2.7M666 160h1.7M669 160h1.7M674 160h2.7M678 160h1.7M680 160h1.7M687 160h1.7M702 160h1.7M740 160h1.7M620 161h1.7M628 161h1.7M649 161h1.7M657 161h1.7M659 161h5.7M665 161h1.7M668 161h1.7M671 161h1.7M673 161h1.7M676 161h1.7M678 161h1.7M622 162h1.7M627 162h1.7M631 162h1.7M646 162h1.7M652 162h1.7M655 162h1.7M661 162h1.7M664 162h1.7M674 162h1.7M678 162h1.7M682 162h1.7M697 162h2.7M636 163h1.7M659 163h1.7M663 163h1.7M669 163h1.7M678 163h1.7M687 163h1.7M626 164h1.7M649 164h1.7M651 164h1.7M654 164h1.7M659 164h4.7M665 164h1.7M671 164h3.7M675 164h1.7M724 164h1.7M622 165h1.7M656 165h1.7M660 165h1.7M667 165h1.7M670 165h1.7M676 165h1.7M678 165h1.7M686 165h1.7M700 165h1.7M733 165h1.7M755 165h1.7M644 166h1.7M653 166h1.7M659 166h1.7M669 166h1.7M688 166h1.7M704 166h1.7M717 166h1.7M631 167h1.7M641 167h1.7M660 167h1.7M662 167h1.7M668 167h2.7M678 167h1.7M691 167h1.7M705 167h1.7M709 167h1.7M712 167h1.7M636 168h1.7M645 168h1.7M660 168h1.7M665 168h1.7M671 168h1.7M677 168h1.7M680 168h1.7M706 168h1.7M740 168h1.7M638 169h2.7M643 169h1.7M648 169h1.7M655 169h1.7M660 169h1.7M662 169h1.7M664 169h1.7M667 169h1.7M679 169h1.7M639 170h1.7M641 170h1.7M643 170h1.7M653 170h2.7M659 170h1.7M662 170h1.7M684 170h1.7M686 170h1.7M730 170h1.7M653 171h2.7M661 171h1.7M666 171h2.7M674 171h1.7M681 171h1.7M690 171h1.7M724 171h1.7M629 172h1.7M662 172h1.7M664 172h1.7M671 172h1.7M676 172h1.7M679 172h1.7M697 172h1.7M646 173h1.7M661 173h1.7M666 173h1.7M669 173h1.7M678 173h1.7M706 173h1.7M763 173h1.7M635 174h1.7M639 174h1.7M641 174h1.7M646 174h1.7M649 174h1.7M662 174h1.7M680 174h1.7M765 174h1.7M651 175h1.7M671 175h1.7M745 175h1.7M613 176h1.7M664 176h2.7M667 176h1.7M672 176h1.7M677 176h1.7M702 176h1.7M651 177h1.7M661 177h1.7M670 177h1.7M674 177h1.7M678 177h1.7M686 177h1.7M624 178h1.7M638 178h1.7M663 178h1.7M666 178h1.7M670 178h1.7M672 178h1.7M678 178h1.7M686 178h1.7M693 178h1.7M659 179h1.7M665 179h1.7M667 179h1.7M669 179h1.7M673 179h1.7M675 179h1.7M695 179h2.7M699 179h1.7M721 179h1.7M652 180h1.7M658 180h2.7M664 180h5.7M681 180h1.7M705 180h1.7M735 180h1.7M743 180h1.7M637 181h1.7M647 181h1.7M658 181h1.7M662 181h1.7M666 181h1.7M675 181h1.7M679 181h1.7M744 181h1.7M770 181h1.7M779 181h1.7M631 182h1.7M654 182h1.7M657 182h1.7M659 182h1.7M661 182h2.7M664 182h1.7M676 182h2.7M684 182h1.7M707 182h1.7M715 182h1.7M720 182h1.7M656 183h1.7M664 183h1.7M672 183h1.7M677 183h1.7M745 183h1.7M749 183h1.7M761 183h1.7M657 184h1.7M661 184h1.7M664 184h1.7M666 184h2.7M673 184h3.7M677 184h1.7M777 184h1.7M793 184h1.7M655 185h4.7M666 185h1.7M671 185h2.7M674 185h1.7M692 185h1.7M705 185h1.7M644 186h1.7M652 186h1.7M662 186h2.7M680 186h1.7M687 186h1.7M696 186h1.7M714 186h3.7M628 187h1.7M660 187h1.7M663 187h1.7M665 187h1.7M667 187h1.7M669 187h1.7M671 187h1.7M675 187h1.7M679 187h1.7M684 187h1.7M696 187h1.7M651 188h1.7M654 188h1.7M663 188h1.7M673 188h1.7M676 188h2.7M697 188h1.7M646 189h1.7M650 189h1.7M655 189h1.7M663 189h1.7M666 189h1.7M669 189h1.7M674 189h1.7M680 189h1.7M699 189h1.7M701 189h1.7M714 189h1.7M736 189h1.7M656 190h1.7M661 190h2.7M665 190h2.7M669 190h3.7M674 190h1.7M676 190h4.7M784 190h1.7M650 191h1.7M655 191h1.7M658 191h1.7M661 191h1.7M664 191h1.7M673 191h1.7M676 191h3.7M693 191h1.7M701 191h1.7M649 192h1.7M655 192h1.7M657 192h1.7M659 192h1.7M666 192h1.7M668 192h2.7M673 192h1.7M716 192h1.7M744 192h1.7M648 193h1.7M653 193h1.7M658 193h1.7M660 193h1.7M662 193h2.7M666 193h1.7M668 193h1.7M670 193h4.7M680 193h1.7M694 193h1.7M706 193h1.7M774 193h1.7M627 194h1.7M654 194h2.7M658 194h1.7M661 194h3.7M671 194h1.7M676 194h2.7M728 194h1.7M734 194h1.7M658 195h1.7M660 195h2.7M663 195h1.7M665 195h1.7M668 195h1.7M674 195h1.7M683 195h1.7M706 195h1.7M718 195h1.7M753 195h1.7M654 196h1.7M656 196h2.7M660 196h1.7M662 196h1.7M668 196h2.7M671 196h1.7M675 196h1.7M690 196h1.7M708 196h1.7M744 196h1.7M748 196h1.7M656 197h1.7M660 197h1.7M662 197h1.7M666 197h1.7M674 197h3.7M709 197h2.7M713 197h1.7M717 197h1.7M720 197h2.7M666 198h1.7M671 198h2.7M674 198h1.7M679 198h2.7M686 198h1.7M690 198h1.7M694 198h1.7M736 198h1.7M655 199h1.7M657 199h1.7M661 199h3.7M665 199h3.7M675 199h1.7M680 199h1.7M707 199h1.7M709 199h1.7M645 200h1.7M662 200h1.7M664 200h2.7M667 200h1.7M679 200h1.7M681 200h1.7M705 200h1.7M712 200h1.7M727 200h1.7M747 200h1.7M652 201h1.7M659 201h1.7M661 201h1.7M663 201h1.7M669 201h1.7M672 201h2.7M675 201h2.7M679 201h1.7M690 201h1.7M704 201h1.7M709 201h1.7M723 201h1.7M729 201h1.7M734 201h1.7M653 202h1.7M658 202h2.7M661 202h1.7M665 202h2.7M673 202h2.7M677 202h1.7M712 202h1.7M723 202h1.7M728 202h2.7M747 202h1.7M634 203h1.7M650 203h1.7M654 203h1.7M657 203h1.7M659 203h1.7M664 203h1.7M671 203h1.7M676 203h1.7M704 203h1.7M710 203h1.7M721 203h1.7M651 204h1.7M662 204h2.7M668 204h1.7M676 204h2.7M680 204h1.7M682 204h1.7M687 204h1.7M697 204h1.7M699 204h1.7M709 204h1.7M656 205h1.7M660 205h2.7M665 205h1.7M668 205h4.7M677 205h1.7M679 205h1.7M682 205h1.7M684 205h1.7M710 205h1.7M714 205h1.7M727 205h1.7M737 205h1.7M739 205h1.7M744 205h1.7M757 205h2.7M641 206h1.7M653 206h1.7M656 206h2.7M659 206h2.7M662 206h1.7M669 206h1.7M672 206h1.7M674 206h1.7M683 206h1.7M722 206h1.7M726 206h1.7M742 206h1.7M646 207h1.7M653 207h1.7M656 207h1.7M663 207h1.7M667 207h1.7M671 207h1.7M673 207h1.7M676 207h1.7M679 207h1.7M710 207h2.7M646 208h1.7M648 208h1.7M657 208h3.7M666 208h1.7M668 208h1.7M670 208h2.7M674 208h1.7M680 208h1.7M684 208h1.7M700 208h1.7M727 208h1.7M741 208h1.7M748 208h1.7M658 209h1.7M661 209h1.7M663 209h1.7M665 209h2.7M668 209h3.7M678 209h1.7M680 209h1.7M692 209h1.7M699 209h1.7M719 209h1.7M653 210h1.7M655 210h1.7M661 210h1.7M665 210h2.7M670 210h1.7M672 210h2.7M683 210h1.7M686 210h1.7M690 210h1.7M715 210h1.7M718 210h1.7M734 210h1.7M738 210h1.7M651 211h1.7M663 211h2.7M669 211h1.7M672 211h1.7M677 211h1.7M680 211h1.7M691 211h1.7M756 211h1.7M656 212h1.7M659 212h1.7M661 212h1.7M666 212h1.7M670 212h4.7M677 212h2.7M683 212h1.7M688 212h1.7M659 213h2.7M663 213h2.7M668 213h1.7M671 213h1.7M673 213h1.7M677 213h2.7M716 213h1.7M726 213h1.7M624 214h1.7M658 214h1.7M670 214h1.7M673 214h1.7M678 214h1.7M680 214h1.7M697 214h1.7M707 214h1.7M725 214h1.7M730 214h1.7M747 214h1.7M656 215h2.7M659 215h1.7M664 215h1.7M668 215h1.7M671 215h1.7M673 215h1.7M676 215h1.7M684 215h1.7M697 215h1.7M716 215h1.7M617 216h1.7M627 216h1.7M647 216h1.7M649 216h1.7M661 216h1.7M663 216h2.7M667 216h1.7M669 216h2.7M674 216h1.7M678 216h1.7M706 216h1.7M711 216h1.7M717 216h1.7M739 216h1.7M639 217h1.7M646 217h1.7M652 217h1.7M660 217h1.7M662 217h2.7M665 217h2.7M668 217h1.7M670 217h1.7M672 217h2.7M675 217h1.7M690 217h2.7M696 217h1.7M699 217h1.7M726 217h1.7M741 217h1.7M752 217h1.7M754 217h1.7M615 218h1.7M625 218h1.7M641 218h1.7M646 218h1.7M656 218h1.7M661 218h1.7M668 218h2.7M671 218h1.7M674 218h1.7M680 218h1.7M687 218h1.7M698 218h1.7M717 218h1.7M728 218h1.7M782 218h1.7M612 219h1.7M625 219h1.7M629 219h1.7M659 219h1.7M664 219h1.7M666 219h1.7M669 219h2.7M675 219h2.7M686 219h1.7M747 219h1.7M771 219h1.7M612 220h1.7M621 220h1.7M630 220h1.7M638 220h1.7M657 220h1.7M663 220h4.7M669 220h1.7M672 220h2.7M676 220h1.7M679 220h1.7M686 220h1.7M696 220h1.7M712 220h1.7M717 220h1.7M724 220h1.7M730 220h1.7M625 221h1.7M627 221h1.7M647 221h1.7M660 221h1.7M666 221h2.7M674 221h3.7M678 221h1.7M680 221h2.7M703 221h1.7M705 221h1.7M741 221h1.7M745 221h2.7M626 222h2.7M632 222h1.7M635 222h1.7M649 222h1.7M653 222h2.7M660 222h1.7M664 222h2.7M669 222h1.7M673 222h1.7M675 222h1.7M679 222h1.7M697 222h1.7M707 222h1.7M716 222h1.7M719 222h1.7M745 222h1.7M615 223h1.7M620 223h1.7M623 223h1.7M627 223h1.7M633 223h1.7M640 223h1.7M646 223h2.7M650 223h1.7M663 223h1.7M665 223h1.7M671 223h1.7M676 223h1.7M680 223h1.7M685 223h1.7M715 223h1.7M737 223h1.7M757 223h1.7M786 223h1.7M616 224h1.7M619 224h4.7M624 224h3.7M628 224h2.7M633 224h2.7M636 224h1.7M655 224h3.7M662 224h2.7M666 224h1.7M670 224h1.7M673 224h2.7M678 224h1.7M680 224h1.7M684 224h1.7M686 224h1.7M688 224h1.7M690 224h1.7M706 224h1.7M709 224h1.7M717 224h1.7M722 224h1.7M730 224h2.7M744 224h1.7M753 224h1.7M615 225h1.7M617 225h3.7M627 225h3.7M634 225h1.7M637 225h1.7M647 225h2.7M650 225h2.7M653 225h1.7M659 225h1.7M661 225h1.7M665 225h1.7M668 225h2.7M684 225h1.7M691 225h1.7M698 225h1.7M706 225h1.7M709 225h1.7M713 225h1.7M716 225h1.7M729 225h1.7M741 225h1.7M743 225h1.7M612 226h1.7M618 226h2.7M621 226h1.7M627 226h1.7M630 226h7.7M639 226h1.7M641 226h4.7M646 226h2.7M656 226h1.7M658 226h1.7M663 226h1.7M675 226h1.7M677 226h3.7M681 226h1.7M688 226h1.7M692 226h1.7M710 226h1.7M732 226h1.7M734 226h1.7M616 227h7.7M624 227h3.7M628 227h3.7M634 227h2.7M638 227h1.7M640 227h1.7M643 227h1.7M645 227h1.7M647 227h3.7M653 227h1.7M656 227h1.7M660 227h1.7M662 227h4.7M668 227h2.7M674 227h2.7M680 227h1.7M685 227h1.7M692 227h1.7M701 227h1.7M706 227h1.7M715 227h1.7M720 227h1.7M724 227h1.7M737 227h1.7M739 227h2.7M746 227h1.7M777 227h1.7M613 228h2.7M617 228h1.7M619 228h1.7M621 228h2.7M626 228h1.7M628 228h3.7M633 228h4.7M640 228h2.7M646 228h1.7M652 228h2.7M664 228h2.7M667 228h4.7M672 228h1.7M681 228h1.7M685 228h1.7M702 228h1.7M708 228h1.7M713 228h1.7M720 228h1.7M734 228h2.7M765 228h1.7M612 229h2.7M616 229h3.7M621 229h7.7M629 229h1.7M631 229h1.7M634 229h3.7M638 229h3.7M645 229h1.7M647 229h1.7M650 229h2.7M657 229h1.7M662 229h1.7M665 229h4.7M672 229h1.7M679 229h2.7M682 229h1.7M688 229h1.7M691 229h2.7M694 229h1.7M698 229h2.7M702 229h1.7M707 229h2.7M718 229h1.7M720 229h2.7M724 229h1.7M746 229h1.7M756 229h1.7M612 230h5.7M620 230h1.7M622 230h5.7M628 230h1.7M630 230h3.7M634 230h3.7M638 230h1.7M640 230h1.7M642 230h4.7M647 230h6.7M660 230h1.7M666 230h2.7M671 230h1.7M673 230h1.7M675 230h1.7M677 230h1.7M686 230h1.7M696 230h1.7M701 230h1.7M708 230h1.7M713 230h1.7M732 230h1.7M749 230h1.7M754 230h1.7M613 231h15.7M630 231h4.7M635 231h7.7M644 231h4.7M649 231h2.7M653 231h1.7M655 231h2.7M660 231h2.7M663 231h1.7M673 231h1.7M679 231h1.7M703 231h1.7M727 231h1.7M735 231h1.7M738 231h2.7M748 231h1.7M764 231h1.7M612 232h2.7M616 232h1.7M618 232h5.7M624 232h13.7M638 232h4.7M644 232h3.7M648 232h1.7M650 232h2.7M653 232h1.7M657 232h1.7M659 232h2.7M663 232h1.7M665 232h3.7M672 232h2.7M676 232h1.7M691 232h2.7M695 232h1.7M722 232h4.7M729 232h1.7M756 232h1.7M771 232h1.7M614 233h5.7M620 233h3.7M624 233h8.7M633 233h14.7M648 233h1.7M650 233h2.7M653 233h1.7M656 233h1.7M661 233h1.7M663 233h2.7M667 233h1.7M671 233h1.7M674 233h1.7M679 233h1.7M697 233h1.7M701 233h1.7M706 233h1.7M710 233h1.7M720 233h1.7M724 233h1.7M729 233h2.7M763 233h1.7M768 233h1.7M612 234h1.7M614 234h20.7M635 234h6.7M642 234h5.7M648 234h3.7M653 234h2.7M656 234h4.7M661 234h2.7M665 234h1.7M668 234h2.7M673 234h1.7M675 234h1.7M680 234h1.7M689 234h1.7M691 234h1.7M695 234h1.7M697 234h1.7M699 234h1.7M701 234h1.7M709 234h2.7M741 234h1.7M612 235h7.7M620 235h26.7M647 235h2.7M650 235h2.7M654 235h2.7M657 235h4.7M663 235h7.7M671 235h1.7M676 235h1.7M681 235h1.7M685 235h2.7M696 235h1.7M701 235h1.7M713 235h1.7M716 235h1.7M726 235h1.7M731 235h1.7M740 235h1.7M612 236h24.7M637 236h5.7M643 236h4.7M648 236h9.7M658 236h2.7M661 236h1.7M665 236h2.7M671 236h1.7M675 236h1.7M677 236h1.7M682 236h1.7M699 236h1.7M715 236h1.7M746 236h1.7M612 237h11.7M624 237h29.7M654 237h3.7M658 237h2.7M661 237h1.7M664 237h2.7M670 237h1.7M673 237h1.7M677 237h3.7M682 237h1.7M689 237h1.7M694 237h2.7M697 237h1.7M705 237h1.7M708 237h2.7M715 237h1.7M721 237h1.7M725 237h1.7M739 237h1.7M741 237h1.7M748 237h1.7M612 238h40.7M653 238h1.7M655 238h1.7M658 238h1.7M660 238h2.7M664 238h3.7M670 238h2.7M678 238h1.7M684 238h1.7M688 238h1.7M692 238h1.7M706 238h1.7M712 238h1.7M728 238h1.7M734 238h1.7M738 238h1.7M740 238h1.7M744 238h1.7M750 238h1.7M755 238h1.7M612 239h48.7M661 239h3.7M665 239h1.7M672 239h1.7M674 239h1.7M676 239h1.7M681 239h1.7M689 239h1.7M691 239h1.7M713 239h1.7M721 239h3.7M733 239h1.7M741 239h2.7M612 240h42.7M655 240h4.7M661 240h2.7M664 240h3.7M670 240h1.7M674 240h1.7M677 240h1.7M680 240h1.7M682 240h1.7M686 240h1.7M694 240h1.7M717 240h1.7M725 240h1.7M729 240h1.7M732 240h1.7M734 240h1.7M738 240h1.7M770 240h1.7M612 241h34.7M647 241h2.7M650 241h1.7M652 241h5.7M658 241h1.7M660 241h7.7M668 241h4.7M673 241h2.7M676 241h3.7M681 241h1.7M684 241h1.7M719 241h1.7M732 241h1.7M735 241h1.7M737 241h1.7M740 241h1.7M742 241h1.7M612 242h46.7M660 242h6.7M667 242h2.7M670 242h1.7M673 242h3.7M679 242h1.7M681 242h1.7M701 242h1.7M704 242h1.7M709 242h1.7M711 242h2.7M714 242h1.7M727 242h1.7M739 242h1.7M759 242h1.7M612 243h48.7M661 243h1.7M663 243h3.7M668 243h2.7M672 243h1.7M675 243h1.7M677 243h1.7M681 243h1.7M686 243h1.7M693 243h1.7M695 243h1.7M705 243h1.7M718 243h1.7M748 243h1.7M795 243h1.7M612 244h46.7M659 244h6.7M666 244h2.7M670 244h1.7M672 244h1.7M674 244h4.7M679 244h1.7M694 244h1.7M698 244h1.7M707 244h1.7M728 244h1.7M765 244h1.7M612 245h54.7M667 245h2.7M670 245h2.7M673 245h1.7M680 245h1.7M683 245h1.7M686 245h1.7M688 245h1.7M699 245h1.7M717 245h1.7M719 245h1.7M721 245h2.7M725 245h1.7M728 245h1.7M740 245h1.7M744 245h1.7M612 246h40.7M653 246h3.7M657 246h1.7M659 246h5.7M666 246h2.7M669 246h6.7M676 246h4.7M692 246h4.7M710 246h1.7M715 246h1.7M736 246h1.7M741 246h1.7M745 246h1.7M759 246h1.7M612 247h54.7M672 247h1.7M675 247h1.7M677 247h1.7M682 247h1.7M684 247h2.7M691 247h1.7M701 247h1.7M714 247h1.7M716 247h1.7M718 247h2.7M727 247h2.7M731 247h1.7M743 247h1.7M785 247h1.7M612 248h47.7M660 248h1.7M662 248h3.7M667 248h1.7M670 248h2.7M673 248h3.7M677 248h1.7M681 248h2.7M684 248h2.7M689 248h1.7M707 248h1.7M711 248h1.7M720 248h1.7M724 248h2.7M729 248h1.7M740 248h1.7M749 248h1.7M612 249h43.7M656 249h2.7M659 249h1.7M661 249h3.7M666 249h2.7M669 249h2.7M672 249h5.7M678 249h1.7M682 249h1.7M694 249h1.7M702 249h1.7M709 249h1.7M714 249h2.7M717 249h1.7M720 249h1.7M612 250h53.7M666 250h1.7M670 250h3.7M674 250h1.7M679 250h1.7M685 250h2.7M690 250h1.7M697 250h1.7M706 250h1.7M713 250h1.7M727 250h1.7M754 250h1.7M612 251h47.7M660 251h1.7M662 251h3.7M666 251h1.7M669 251h3.7M674 251h2.7M677 251h1.7M679 251h1.7M683 251h1.7M687 251h1.7M701 251h1.7M706 251h1.7M713 251h1.7M720 251h1.7M741 251h1.7M755 251h1.7M612 252h43.7M656 252h10.7M668 252h1.7M671 252h1.7M673 252h1.7M677 252h1.7M680 252h1.7M682 252h1.7M692 252h1.7M711 252h2.7M720 252h1.7M722 252h1.7M745 252h1.7M612 253h50.7M663 253h1.7M669 253h3.7M674 253h3.7M680 253h2.7M685 253h1.7M687 253h1.7M696 253h1.7M710 253h1.7M735 253h1.7M741 253h1.7M612 254h50.7M663 254h4.7M668 254h2.7M671 254h1.7M677 254h2.7M689 254h1.7M696 254h1.7M705 254h1.7M719 254h1.7M725 254h1.7M769 254h1.7M612 255h49.7M662 255h2.7M668 255h1.7M670 255h4.7M675 255h1.7M683 255h1.7M706 255h1.7M612 256h51.7M664 256h1.7M666 256h3.7M671 256h1.7M673 256h4.7M678 256h1.7M687 256h1.7M697 256h1.7M741 256h1.7M612 257h45.7M658 257h4.7M663 257h5.7M670 257h2.7M675 257h2.7M682 257h1.7M690 257h1.7M695 257h1.7M748 257h1.7M780 257h1.7M612 258h54.7M668 258h1.7M670 258h1.7M674 258h2.7M677 258h1.7M686 258h1.7M706 258h1.7M714 258h1.7M726 258h1.7M612 259h47.7M660 259h4.7M666 259h2.7M670 259h1.7M673 259h1.7M675 259h2.7M679 259h1.7M700 259h1.7M716 259h1.7M718 259h1.7M723 259h1.7M612 260h49.7M664 260h3.7M668 260h2.7M671 260h5.7M678 260h1.7M703 260h1.7M705 260h1.7M707 260h1.7M738 260h1.7M758 260h1.7M776 260h1.7M612 261h33.7M646 261h13.7M661 261h5.7M667 261h2.7M670 261h1.7M672 261h2.7M685 261h1.7M688 261h1.7M733 261h1.7M746 261h1.7M612 262h48.7M661 262h1.7M663 262h3.7M667 262h1.7M669 262h1.7M673 262h1.7M678 262h1.7M698 262h1.7M715 262h1.7M732 262h1.7M744 262h1.7M612 263h46.7M659 263h8.7M668 263h1.7M674 263h1.7M678 263h1.7M680 263h1.7M687 263h1.7M727 263h1.7M612 264h52.7M667 264h2.7M670 264h1.7M677 264h1.7M680 264h1.7M684 264h1.7M688 264h1.7M696 264h1.7M708 264h2.7M714 264h1.7M764 264h1.7M776 264h1.7M612 265h42.7M655 265h4.7M663 265h1.7M665 265h1.7M667 265h1.7M669 265h1.7M673 265h1.7M675 265h1.7M678 265h3.7M692 265h1.7M695 265h1.7M727 265h1.7M730 265h1.7M612 266h45.7M658 266h3.7M668 266h1.7M673 266h1.7M695 266h1.7M736 266h1.7M748 266h1.7M612 267h45.7M658 267h1.7M660 267h1.7M663 267h1.7M666 267h2.7M681 267h1.7M729 267h1.7M741 267h1.7M760 267h1.7" stroke="#000" stroke-width="1.7" fill="none"/>
<path transform="scale(0.5) translate(0,0.5)" d="M854 114h1.7M984 114h1.7M859 119h1.7M886 119h1.7M836 120h1.7M916 122h1.7M957 122h1.7M995 123h1.7M880 124h1.7M878 125h2.7M848 127h1.7M889 127h1.7M897 127h1.7M885 129h1.7M885 130h1.7M879 131h1.7M883 131h1.7M867 132h1.7M878 132h1.7M881 132h1.7M945 132h1.7M930 133h1.7M877 134h1.7M894 134h1.7M854 135h1.7M858 135h1.7M872 135h1.7M878 135h1.7M883 135h1.7M891 135h1.7M853 136h1.7M876 136h1.7M953 136h1.7M878 137h2.7M881 137h3.7M886 137h1.7M888 137h1.7M875 138h1.7M878 138h1.7M881 138h1.7M932 138h1.7M948 138h1.7M861 139h1.7M864 139h1.7M876 139h1.7M879 139h1.7M883 139h1.7M888 139h2.7M930 139h1.7M935 139h1.7M873 140h1.7M875 140h1.7M881 140h4.7M886 140h2.7M890 140h1.7M841 141h1.7M847 141h1.7M860 141h1.7M864 141h1.7M869 141h1.7M871 141h3.7M876 141h1.7M878 141h1.7M881 141h1.7M883 141h1.7M889 141h1.7M918 141h1.7M960 141h1.7M963 141h1.7M980 141h1.7M849 142h1.7M857 142h1.7M870 142h1.7M875 142h2.7M880 142h1.7M884 142h1.7M933 142h1.7M963 142h1.7M851 143h1.7M856 143h1.7M858 143h1.7M867 143h2.7M873 143h3.7M879 143h1.7M881 143h1.7M883 143h1.7M885 143h1.7M898 143h1.7M918 143h1.7M956 143h1.7M862 144h1.7M873 144h4.7M878 144h3.7M886 144h2.7M889 144h1.7M895 144h1.7M961 144h1.7M856 145h1.7M861 145h1.7M868 145h1.7M874 145h1.7M877 145h3.7M882 145h5.7M888 145h1.7M891 145h1.7M900 145h1.7M903 145h1.7M936 145h1.7M870 146h1.7M874 146h2.7M877 146h1.7M879 146h1.7M886 146h1.7M901 146h1.7M907 146h1.7M919 146h1.7M965 146h1.7M847 147h1.7M858 147h1.7M873 147h2.7M881 147h1.7M883 147h1.7M888 147h2.7M923 147h1.7M941 147h1.7M963 147h1.7M849 148h1.7M864 148h1.7M867 148h1.7M876 148h4.7M881 148h1.7M884 148h1.7M888 148h1.7M931 148h1.7M955 148h1.7M845 149h1.7M853 149h1.7M859 149h1.7M869 149h4.7M874 149h3.7M879 149h3.7M883 149h1.7M886 149h1.7M892 149h1.7M921 149h1.7M942 149h1.7M873 150h1.7M875 150h3.7M880 150h1.7M885 150h1.7M888 150h1.7M893 150h1.7M929 150h1.7M959 150h1.7M866 151h2.7M875 151h1.7M879 151h2.7M882 151h2.7M889 151h1.7M909 151h1.7M940 151h2.7M867 152h1.7M873 152h1.7M876 152h2.7M879 152h2.7M886 152h2.7M889 152h1.7M891 152h1.7M934 152h1.7M856 153h1.7M874 153h1.7M876 153h1.7M880 153h1.7M882 153h1.7M885 153h1.7M887 153h2.7M948 153h1.7M863 154h1.7M873 154h1.7M880 154h2.7M884 154h2.7M943 154h1.7M835 155h1.7M845 155h1.7M859 155h1.7M867 155h1.7M869 155h1.7M873 155h1.7M876 155h2.7M880 155h1.7M880 156h1.7M882 156h1.7M846 157h1.7M863 157h1.7M876 157h1.7M879 157h1.7M891 157h1.7M856 158h1.7M869 158h1.7M874 158h1.7M879 158h1.7M881 158h1.7M885 158h1.7M916 158h1.7M934 158h1.7M850 159h1.7M853 159h1.7M860 159h1.7M866 159h1.7M870 159h1.7M873 159h1.7M881 159h1.7M883 159h1.7M886 159h1.7M942 159h1.7M860 160h1.7M862 160h1.7M890 160h1.7M892 160h1.7M924 160h1.7M878 161h1.7M880 161h1.7M888 161h1.7M927 161h1.7M870 162h1.7M878 162h1.7M882 162h2.7M856 163h1.7M877 163h2.7M841 164h1.7M870 164h1.7M872 164h1.7M875 164h1.7M943 164h1.7M864 165h1.7M873 165h1.7M888 165h1.7M949 165h1.7M878 166h1.7M872 167h1.7M875 167h1.7M884 167h1.7M866 168h1.7M871 168h1.7M886 168h1.7M905 168h1.7M959 168h1.7M865 169h1.7M882 169h1.7M886 169h1.7M888 169h3.7M893 169h1.7M904 169h1.7M878 170h1.7M883 170h2.7M891 170h1.7M893 170h1.7M946 170h1.7M870 171h1.7M883 171h1.7M885 171h1.7M892 171h1.7M883 172h1.7M895 172h1.7M985 172h1.7M870 173h1.7M881 173h1.7M890 173h1.7M903 173h1.7M866 174h1.7M876 174h1.7M895 174h1.7M897 174h1.7M867 175h2.7M873 175h3.7M892 175h1.7M865 176h1.7M912 176h1.7M869 177h1.7M873 177h1.7M878 177h1.7M880 177h1.7M882 177h3.7M887 177h1.7M889 177h1.7M867 178h1.7M876 178h1.7M883 178h2.7M886 178h1.7M888 178h1.7M892 178h1.7M876 179h1.7M879 179h1.7M882 179h1.7M885 179h2.7M888 179h1.7M846 180h1.7M870 180h2.7M881 180h1.7M889 180h2.7M903 180h1.7M860 181h1.7M871 181h1.7M875 181h1.7M879 181h1.7M885 181h1.7M877 182h1.7M881 182h2.7M884 182h1.7M887 182h4.7M893 182h1.7M895 182h1.7M948 182h1.7M950 182h1.7M874 183h2.7M878 183h1.7M881 183h1.7M884 183h1.7M889 183h1.7M994 183h1.7M870 184h1.7M877 184h1.7M880 184h1.7M882 184h1.7M885 184h1.7M888 184h1.7M892 184h1.7M873 185h3.7M880 185h2.7M884 185h3.7M919 185h1.7M963 185h1.7M836 186h1.7M855 186h1.7M861 186h1.7M863 186h1.7M875 186h1.7M880 186h1.7M882 186h1.7M896 186h1.7M868 187h1.7M873 187h1.7M875 187h2.7M878 187h1.7M881 187h1.7M891 187h1.7M899 187h1.7M954 187h1.7M957 187h1.7M845 188h1.7M871 188h1.7M877 188h1.7M882 188h1.7M888 188h1.7M985 188h1.7M871 189h1.7M882 189h1.7M889 189h1.7M891 189h2.7M897 189h1.7M874 190h1.7M884 190h1.7M886 190h1.7M889 190h2.7M892 190h1.7M904 190h1.7M872 191h1.7M875 191h1.7M886 191h1.7M900 191h1.7M931 191h1.7M937 191h1.7M879 192h1.7M883 192h1.7M885 192h1.7M887 192h1.7M894 192h1.7M898 192h1.7M868 193h1.7M874 193h1.7M881 193h1.7M883 193h1.7M885 193h2.7M890 193h2.7M894 193h1.7M952 193h1.7M978 193h1.7M859 194h1.7M870 194h1.7M876 194h2.7M880 194h2.7M885 194h1.7M888 194h3.7M894 194h2.7M878 195h2.7M881 195h3.7M887 195h1.7M900 195h1.7M868 196h1.7M876 196h2.7M883 196h5.7M902 196h1.7M921 196h1.7M977 196h1.7M982 196h1.7M868 197h1.7M873 197h1.7M891 197h2.7M872 198h1.7M874 198h1.7M877 198h1.7M881 198h1.7M883 198h4.7M890 198h1.7M872 199h1.7M874 199h2.7M880 199h3.7M885 199h2.7M890 199h2.7M872 200h1.7M878 200h1.7M880 200h2.7M883 200h1.7M885 200h1.7M891 200h1.7M898 200h1.7M960 200h1.7M854 201h1.7M872 201h1.7M874 201h1.7M876 201h2.7M882 201h1.7M891 201h1.7M991 201h1.7M861 202h1.7M866 202h1.7M872 202h2.7M878 202h1.7M881 203h1.7M884 203h1.7M886 203h1.7M892 203h1.7M895 203h1.7M903 203h1.7M925 203h1.7M869 204h1.7M872 204h1.7M874 204h2.7M879 204h3.7M883 204h2.7M899 204h1.7M916 204h1.7M927 204h1.7M932 204h1.7M955 204h1.7M869 205h1.7M873 205h1.7M879 205h1.7M883 205h1.7M886 205h2.7M893 205h1.7M897 205h1.7M904 205h1.7M873 206h1.7M877 206h3.7M881 206h2.7M891 206h1.7M900 206h2.7M903 206h1.7M871 207h1.7M878 207h3.7M885 207h2.7M890 207h1.7M904 207h1.7M912 207h1.7M916 207h1.7M971 207h1.7M870 208h1.7M877 208h1.7M882 208h2.7M886 208h1.7M895 208h2.7M870 209h1.7M873 209h1.7M875 209h1.7M882 209h1.7M885 209h1.7M908 209h1.7M923 209h1.7M925 209h1.7M934 209h1.7M950 209h1.7M985 209h1.7M866 210h1.7M873 210h1.7M886 210h3.7M924 210h1.7M962 210h1.7M876 211h1.7M878 211h1.7M883 211h4.7M900 211h1.7M844 212h1.7M872 212h2.7M877 212h1.7M880 212h2.7M884 212h1.7M891 212h1.7M904 212h1.7M941 212h1.7M840 213h1.7M862 213h1.7M867 213h1.7M877 213h1.7M881 213h1.7M883 213h1.7M887 213h1.7M891 213h1.7M896 213h1.7M910 213h1.7M912 213h1.7M965 213h1.7M847 214h1.7M854 214h1.7M866 214h1.7M877 214h3.7M882 214h1.7M884 214h1.7M886 214h2.7M893 214h1.7M917 214h1.7M944 214h1.7M837 215h1.7M840 215h1.7M848 215h1.7M857 215h1.7M865 215h1.7M872 215h1.7M875 215h1.7M880 215h1.7M882 215h2.7M893 215h1.7M900 215h1.7M944 215h1.7M879 216h1.7M881 216h1.7M885 216h2.7M889 216h1.7M893 216h1.7M898 216h1.7M912 216h1.7M948 216h1.7M838 217h1.7M865 217h1.7M876 217h1.7M881 217h1.7M885 217h1.7M890 217h1.7M895 217h1.7M897 217h1.7M904 217h1.7M969 217h1.7M835 218h1.7M867 218h1.7M870 218h1.7M874 218h1.7M881 218h1.7M887 218h1.7M890 218h1.7M919 218h1.7M964 218h1.7M846 219h1.7M852 219h1.7M854 219h1.7M865 219h1.7M872 219h1.7M874 219h1.7M882 219h1.7M907 219h1.7M926 219h1.7M972 219h1.7M834 220h1.7M841 220h1.7M860 220h1.7M869 220h1.7M880 220h2.7M883 220h1.7M885 220h1.7M894 220h1.7M896 220h1.7M899 220h1.7M901 220h1.7M903 220h1.7M934 220h1.7M949 220h1.7M974 220h1.7M834 221h1.7M837 221h2.7M842 221h1.7M844 221h3.7M849 221h1.7M857 221h1.7M872 221h1.7M888 221h3.7M892 221h1.7M898 221h1.7M908 221h1.7M912 221h1.7M927 221h1.7M832 222h1.7M836 222h1.7M843 222h1.7M847 222h1.7M856 222h1.7M864 222h1.7M872 222h1.7M875 222h1.7M877 222h1.7M879 222h1.7M882 222h2.7M886 222h1.7M891 222h1.7M943 222h1.7M964 222h1.7M990 222h1.7M835 223h1.7M838 223h1.7M841 223h2.7M845 223h4.7M850 223h2.7M854 223h1.7M862 223h1.7M866 223h2.7M872 223h2.7M879 223h1.7M887 223h1.7M890 223h1.7M897 223h1.7M918 223h1.7M940 223h1.7M960 223h1.7M965 223h1.7M837 224h1.7M849 224h3.7M853 224h1.7M855 224h1.7M859 224h2.7M863 224h1.7M866 224h1.7M870 224h1.7M874 224h1.7M880 224h1.7M884 224h1.7M889 224h1.7M899 224h1.7M905 224h1.7M937 224h1.7M957 224h1.7M977 224h1.7M987 224h1.7M832 225h1.7M835 225h1.7M838 225h5.7M844 225h2.7M848 225h4.7M855 225h1.7M857 225h3.7M862 225h1.7M864 225h1.7M866 225h1.7M868 225h2.7M871 225h1.7M876 225h1.7M878 225h2.7M887 225h2.7M892 225h1.7M895 225h1.7M903 225h1.7M907 225h1.7M969 225h1.7M837 226h1.7M839 226h2.7M844 226h2.7M848 226h3.7M853 226h4.7M858 226h5.7M864 226h1.7M866 226h1.7M868 226h1.7M870 226h1.7M872 226h1.7M875 226h1.7M879 226h1.7M882 226h1.7M894 226h1.7M900 226h1.7M832 227h3.7M838 227h7.7M846 227h1.7M848 227h1.7M850 227h3.7M855 227h1.7M857 227h1.7M865 227h2.7M872 227h2.7M875 227h2.7M878 227h1.7M881 227h1.7M883 227h1.7M885 227h2.7M889 227h2.7M918 227h1.7M1004 227h1.7M833 228h1.7M835 228h2.7M838 228h1.7M840 228h4.7M846 228h2.7M849 228h1.7M851 228h1.7M853 228h1.7M855 228h1.7M859 228h3.7M864 228h2.7M867 228h4.7M872 228h1.7M875 228h1.7M880 228h1.7M882 228h2.7M885 228h1.7M913 228h1.7M922 228h1.7M832 229h3.7M836 229h1.7M839 229h3.7M843 229h1.7M845 229h13.7M859 229h1.7M861 229h1.7M863 229h2.7M867 229h2.7M870 229h1.7M872 229h4.7M877 229h1.7M879 229h1.7M887 229h2.7M895 229h1.7M903 229h1.7M905 229h1.7M916 229h1.7M960 229h1.7M1005 229h1.7M833 230h8.7M842 230h8.7M851 230h3.7M857 230h2.7M860 230h4.7M866 230h1.7M869 230h3.7M873 230h1.7M875 230h1.7M878 230h1.7M880 230h1.7M885 230h1.7M892 230h2.7M896 230h1.7M916 230h1.7M937 230h1.7M832 231h1.7M834 231h5.7M840 231h8.7M849 231h3.7M854 231h4.7M859 231h3.7M863 231h2.7M867 231h3.7M871 231h2.7M877 231h1.7M879 231h2.7M882 231h1.7M885 231h1.7M887 231h1.7M892 231h1.7M894 231h1.7M898 231h1.7M901 231h1.7M943 231h1.7M955 231h1.7M974 231h1.7M832 232h3.7M836 232h26.7M863 232h1.7M868 232h2.7M872 232h1.7M876 232h2.7M884 232h3.7M890 232h1.7M902 232h1.7M905 232h1.7M916 232h1.7M919 232h1.7M931 232h1.7M833 233h35.7M869 233h2.7M873 233h3.7M877 233h1.7M882 233h1.7M884 233h1.7M887 233h1.7M890 233h2.7M900 233h1.7M936 233h1.7M947 233h1.7M951 233h1.7M832 234h10.7M843 234h11.7M855 234h13.7M870 234h6.7M877 234h1.7M879 234h1.7M881 234h2.7M886 234h1.7M888 234h1.7M891 234h1.7M897 234h2.7M906 234h1.7M941 234h1.7M963 234h1.7M832 235h2.7M835 235h32.7M868 235h2.7M871 235h4.7M876 235h1.7M878 235h2.7M882 235h1.7M885 235h2.7M888 235h4.7M897 235h1.7M900 235h1.7M906 235h1.7M913 235h1.7M959 235h1.7M961 235h1.7M970 235h1.7M1009 235h1.7M832 236h29.7M862 236h2.7M865 236h5.7M872 236h2.7M876 236h1.7M882 236h4.7M890 236h1.7M894 236h1.7M900 236h1.7M930 236h1.7M957 236h1.7M965 236h1.7M992 236h1.7M832 237h38.7M873 237h1.7M877 237h6.7M885 237h1.7M887 237h3.7M951 237h1.7M962 237h1.7M967 237h1.7M1009 237h1.7M832 238h35.7M871 238h7.7M880 238h3.7M884 238h1.7M888 238h1.7M892 238h1.7M901 238h1.7M912 238h1.7M832 239h41.7M874 239h1.7M876 239h5.7M884 239h1.7M886 239h2.7M892 239h1.7M907 239h1.7M910 239h2.7M966 239h1.7M832 240h37.7M870 240h5.7M876 240h2.7M881 240h2.7M886 240h3.7M893 240h1.7M895 240h1.7M902 240h1.7M918 240h3.7M938 240h1.7M832 241h43.7M877 241h1.7M879 241h1.7M881 241h2.7M884 241h1.7M889 241h1.7M894 241h2.7M898 241h2.7M923 241h1.7M966 241h1.7M832 242h37.7M870 242h6.7M877 242h1.7M882 242h2.7M887 242h2.7M890 242h1.7M894 242h1.7M898 242h1.7M936 242h1.7M955 242h1.7M970 242h1.7M832 243h42.7M875 243h1.7M877 243h2.7M880 243h4.7M887 243h1.7M891 243h2.7M907 243h1.7M920 243h1.7M931 243h1.7M936 243h1.7M832 244h38.7M871 244h6.7M879 244h4.7M884 244h2.7M887 244h1.7M892 244h1.7M895 244h2.7M900 244h1.7M920 244h1.7M923 244h1.7M930 244h1.7M952 244h1.7M961 244h1.7M832 245h40.7M873 245h3.7M877 245h1.7M879 245h1.7M882 245h4.7M894 245h1.7M901 245h1.7M903 245h2.7M913 245h1.7M832 246h37.7M870 246h6.7M878 246h3.7M882 246h2.7M886 246h1.7M888 246h3.7M894 246h1.7M898 246h1.7M904 246h2.7M925 246h1.7M832 247h44.7M877 247h5.7M883 247h1.7M886 247h2.7M890 247h1.7M892 247h1.7M896 247h2.7M900 247h1.7M928 247h1.7M936 247h1.7M941 247h1.7M944 247h2.7M969 247h1.7M832 248h40.7M873 248h9.7M885 248h1.7M887 248h1.7M889 248h1.7M895 248h1.7M898 248h1.7M915 248h1.7M930 248h1.7M948 248h1.7M832 249h50.7M885 249h1.7M888 249h1.7M900 249h1.7M909 249h1.7M926 249h1.7M939 249h1.7M961 249h1.7M967 249h1.7M832 250h47.7M881 250h3.7M885 250h1.7M887 250h3.7M891 250h1.7M895 250h1.7M957 250h1.7M989 250h1.7M832 251h45.7M878 251h3.7M882 251h3.7M886 251h1.7M892 251h1.7M896 251h1.7M899 251h1.7M941 251h1.7M944 251h1.7M968 251h1.7M832 252h45.7M881 252h1.7M883 252h1.7M885 252h2.7M892 252h1.7M895 252h2.7M907 252h1.7M912 252h1.7M978 252h1.7M832 253h48.7M883 253h3.7M888 253h1.7M890 253h1.7M893 253h1.7M897 253h1.7M903 253h1.7M913 253h1.7M970 253h1.7M1001 253h1.7M832 254h45.7M878 254h1.7M880 254h6.7M888 254h1.7M896 254h1.7M936 254h1.7M962 254h1.7M983 254h1.7M832 255h42.7M875 255h5.7M881 255h3.7M885 255h1.7M890 255h1.7M942 255h1.7M952 255h1.7M958 255h1.7M979 255h1.7M986 255h1.7M988 255h1.7M832 256h49.7M883 256h3.7M888 256h1.7M890 256h1.7M894 256h2.7M917 256h1.7M981 256h1.7M832 257h45.7M880 257h3.7M884 257h3.7M888 257h1.7M895 257h1.7M899 257h1.7M901 257h1.7M904 257h1.7M913 257h1.7M947 257h1.7M949 257h1.7M954 257h1.7M832 258h49.7M882 258h2.7M886 258h4.7M910 258h1.7M938 258h1.7M940 258h1.7M985 258h1.7M832 259h41.7M874 259h2.7M877 259h1.7M879 259h1.7M881 259h4.7M886 259h3.7M895 259h1.7M832 260h41.7M874 260h3.7M878 260h3.7M884 260h1.7M911 260h1.7M923 260h1.7M991 260h1.7M832 261h46.7M881 261h2.7M887 261h1.7M889 261h1.7M894 261h1.7M921 261h1.7M832 262h38.7M871 262h5.7M877 262h4.7M882 262h1.7M886 262h1.7M889 262h1.7M962 262h1.7M832 263h40.7M873 263h7.7M887 263h2.7M891 263h1.7M895 263h1.7M901 263h2.7M832 264h42.7M875 264h3.7M881 264h1.7M885 264h1.7M891 264h1.7M901 264h1.7M832 265h41.7M874 265h2.7M877 265h1.7M881 265h3.7M888 265h1.7M906 265h1.7M912 265h1.7M936 265h1.7M832 266h43.7M876 266h3.7M881 266h2.7M896 266h1.7M900 266h1.7M971 266h1.7M832 267h29.7M862 267h4.7M867 267h12.7M881 267h1.7M887 267h2.7M896 267h1.7M921 267h1.7" stroke="#000" stroke-width="1.7" fill="none"/>
<g filter="url(#soft)">
<text x="1.6" y="16.7" font-size="19.8" >A</text>
<line x1="40.5" y1="17.5" x2="128.6" y2="17.5" stroke="#000" stroke-width="2.1"/>
<line x1="155.7" y1="17.5" x2="244" y2="17.5" stroke="#000" stroke-width="2.1"/>
<text x="133" y="21.5" font-size="11.8" textLength="17.3" lengthAdjust="spacingAndGlyphs" >Lin</text>
<rect x="151.2" y="15.2" width="2.1" height="0.9" fill="#333"/>
<text x="71.9" y="33.2" font-size="15" textLength="18.8" lengthAdjust="spacingAndGlyphs" >Wt</text>
<text x="183.1" y="33.2" font-size="15" textLength="18" lengthAdjust="spacingAndGlyphs" stroke="#000" stroke-width="0.3">+/-</text>
<line x1="14" y1="37" x2="14" y2="133.8" stroke="#000" stroke-width="2.1"/>
<text transform="translate(10.4,94.6) rotate(-90)" font-size="11.5" textLength="24.2" lengthAdjust="spacingAndGlyphs">c-kit</text>
<text x="18.5" y="42" font-size="9" textLength="9.6" lengthAdjust="spacingAndGlyphs" stroke="#000" stroke-width="0.25">10</text>
<text x="28.6" y="38.0" font-size="6" stroke="#000" stroke-width="0.2">4</text>
<text x="18.5" y="65" font-size="9" textLength="9.6" lengthAdjust="spacingAndGlyphs" stroke="#000" stroke-width="0.25">10</text>
<text x="28.6" y="61.0" font-size="6" stroke="#000" stroke-width="0.2">3</text>
<text x="18.5" y="88.8" font-size="9" textLength="9.6" lengthAdjust="spacingAndGlyphs" stroke="#000" stroke-width="0.25">10</text>
<text x="28.6" y="84.8" font-size="6" stroke="#000" stroke-width="0.2">2</text>
<text x="18.5" y="112.5" font-size="9" textLength="9.6" lengthAdjust="spacingAndGlyphs" stroke="#000" stroke-width="0.25">10</text>
<text x="28.6" y="108.5" font-size="6" stroke="#000" stroke-width="0.2">1</text>
<text x="18.5" y="136.5" font-size="9" textLength="9.6" lengthAdjust="spacingAndGlyphs" stroke="#000" stroke-width="0.25">10</text>
<text x="28.6" y="132.5" font-size="6" stroke="#000" stroke-width="0.2">0</text>
<text x="29.4" y="146.7" font-size="9" textLength="9.6" lengthAdjust="spacingAndGlyphs" stroke="#000" stroke-width="0.25">10</text>
<text x="39.5" y="142.7" font-size="6" stroke="#000" stroke-width="0.2">0</text>
<text x="140.0" y="146.7" font-size="9" textLength="9.6" lengthAdjust="spacingAndGlyphs" stroke="#000" stroke-width="0.25">10</text>
<text x="150.1" y="142.7" font-size="6" stroke="#000" stroke-width="0.2">0</text>
<text x="52.2" y="146.7" font-size="9" textLength="9.6" lengthAdjust="spacingAndGlyphs" stroke="#000" stroke-width="0.25">10</text>
<text x="62.300000000000004" y="142.7" font-size="6" stroke="#000" stroke-width="0.2">1</text>
<text x="162.8" y="146.7" font-size="9" textLength="9.6" lengthAdjust="spacingAndGlyphs" stroke="#000" stroke-width="0.25">10</text>
<text x="172.9" y="142.7" font-size="6" stroke="#000" stroke-width="0.2">1</text>
<text x="75.0" y="146.7" font-size="9" textLength="9.6" lengthAdjust="spacingAndGlyphs" stroke="#000" stroke-width="0.25">10</text>
<text x="85.1" y="142.7" font-size="6" stroke="#000" stroke-width="0.2">2</text>
<text x="185.6" y="146.7" font-size="9" textLength="9.6" lengthAdjust="spacingAndGlyphs" stroke="#000" stroke-width="0.25">10</text>
<text x="195.7" y="142.7" font-size="6" stroke="#000" stroke-width="0.2">2</text>
<text x="97.80000000000001" y="146.7" font-size="9" textLength="9.6" lengthAdjust="spacingAndGlyphs" stroke="#000" stroke-width="0.25">10</text>
<text x="107.9" y="142.7" font-size="6" stroke="#000" stroke-width="0.2">3</text>
<text x="208.4" y="146.7" font-size="9" textLength="9.6" lengthAdjust="spacingAndGlyphs" stroke="#000" stroke-width="0.25">10</text>
<text x="218.5" y="142.7" font-size="6" stroke="#000" stroke-width="0.2">3</text>
<text x="120.6" y="146.7" font-size="9" textLength="9.6" lengthAdjust="spacingAndGlyphs" stroke="#000" stroke-width="0.25">10</text>
<text x="130.7" y="142.7" font-size="6" stroke="#000" stroke-width="0.2">4</text>
<text x="231.2" y="146.7" font-size="9" textLength="9.6" lengthAdjust="spacingAndGlyphs" stroke="#000" stroke-width="0.25">10</text>
<text x="241.29999999999998" y="142.7" font-size="6" stroke="#000" stroke-width="0.2">4</text>
<line x1="36" y1="152.3" x2="243.2" y2="152.3" stroke="#000" stroke-width="2.2"/>
<text x="117.7" y="169.6" font-size="12.5" textLength="31" lengthAdjust="spacingAndGlyphs" >Sca-1</text>
<text x="267" y="15.7" font-size="19.8" >B</text>
<line x1="305.5" y1="17.9" x2="393.2" y2="17.9" stroke="#000" stroke-width="2.1"/>
<line x1="423.5" y1="17.9" x2="511.5" y2="17.9" stroke="#000" stroke-width="2.1"/>
<text x="398.4" y="22.1" font-size="11.8" textLength="17.2" lengthAdjust="spacingAndGlyphs" >Lin</text>
<rect x="416.7" y="15.5" width="2.1" height="0.9" fill="#333"/>
<text x="343.8" y="33.1" font-size="15.7" textLength="19" lengthAdjust="spacingAndGlyphs" >Wt</text>
<text x="455" y="33.9" font-size="15" textLength="18" lengthAdjust="spacingAndGlyphs" stroke="#000" stroke-width="0.3">+/-</text>
<line x1="284.2" y1="36.8" x2="284.2" y2="133.8" stroke="#000" stroke-width="2.2"/>
<text transform="translate(277.6,97.8) rotate(-90)" font-size="11.5" textLength="24.2" lengthAdjust="spacingAndGlyphs">c-kit</text>
<text x="287.6" y="42.5" font-size="9" textLength="9.6" lengthAdjust="spacingAndGlyphs" stroke="#000" stroke-width="0.25">10</text>
<text x="297.70000000000005" y="38.5" font-size="6" stroke="#000" stroke-width="0.2">4</text>
<text x="287.6" y="66.25" font-size="9" textLength="9.6" lengthAdjust="spacingAndGlyphs" stroke="#000" stroke-width="0.25">10</text>
<text x="297.70000000000005" y="62.25" font-size="6" stroke="#000" stroke-width="0.2">3</text>
<text x="287.6" y="90" font-size="9" textLength="9.6" lengthAdjust="spacingAndGlyphs" stroke="#000" stroke-width="0.25">10</text>
<text x="297.70000000000005" y="86.0" font-size="6" stroke="#000" stroke-width="0.2">2</text>
<text x="287.6" y="113.75" font-size="9" textLength="9.6" lengthAdjust="spacingAndGlyphs" stroke="#000" stroke-width="0.25">10</text>
<text x="297.70000000000005" y="109.75" font-size="6" stroke="#000" stroke-width="0.2">1</text>
<text x="287.6" y="137.5" font-size="9" textLength="9.6" lengthAdjust="spacingAndGlyphs" stroke="#000" stroke-width="0.25">10</text>
<text x="297.70000000000005" y="133.5" font-size="6" stroke="#000" stroke-width="0.2">0</text>
<text x="301.25" y="146.4" font-size="9" textLength="9.6" lengthAdjust="spacingAndGlyphs" stroke="#000" stroke-width="0.25">10</text>
<text x="311.35" y="142.4" font-size="6" stroke="#000" stroke-width="0.2">0</text>
<text x="411.9" y="146.4" font-size="9" textLength="9.6" lengthAdjust="spacingAndGlyphs" stroke="#000" stroke-width="0.25">10</text>
<text x="422.0" y="142.4" font-size="6" stroke="#000" stroke-width="0.2">0</text>
<text x="324.05" y="146.4" font-size="9" textLength="9.6" lengthAdjust="spacingAndGlyphs" stroke="#000" stroke-width="0.25">10</text>
<text x="334.15000000000003" y="142.4" font-size="6" stroke="#000" stroke-width="0.2">1</text>
<text x="434.7" y="146.4" font-size="9" textLength="9.6" lengthAdjust="spacingAndGlyphs" stroke="#000" stroke-width="0.25">10</text>
<text x="444.8" y="142.4" font-size="6" stroke="#000" stroke-width="0.2">1</text>
<text x="346.85" y="146.4" font-size="9" textLength="9.6" lengthAdjust="spacingAndGlyphs" stroke="#000" stroke-width="0.25">10</text>
<text x="356.95000000000005" y="142.4" font-size="6" stroke="#000" stroke-width="0.2">2</text>
<text x="457.5" y="146.4" font-size="9" textLength="9.6" lengthAdjust="spacingAndGlyphs" stroke="#000" stroke-width="0.25">10</text>
<text x="467.6" y="142.4" font-size="6" stroke="#000" stroke-width="0.2">2</text>
<text x="369.65" y="146.4" font-size="9" textLength="9.6" lengthAdjust="spacingAndGlyphs" stroke="#000" stroke-width="0.25">10</text>
<text x="379.75" y="142.4" font-size="6" stroke="#000" stroke-width="0.2">3</text>
<text x="480.29999999999995" y="146.4" font-size="9" textLength="9.6" lengthAdjust="spacingAndGlyphs" stroke="#000" stroke-width="0.25">10</text>
<text x="490.4" y="142.4" font-size="6" stroke="#000" stroke-width="0.2">3</text>
<text x="392.45" y="146.4" font-size="9" textLength="9.6" lengthAdjust="spacingAndGlyphs" stroke="#000" stroke-width="0.25">10</text>
<text x="402.55" y="142.4" font-size="6" stroke="#000" stroke-width="0.2">4</text>
<text x="503.09999999999997" y="146.4" font-size="9" textLength="9.6" lengthAdjust="spacingAndGlyphs" stroke="#000" stroke-width="0.25">10</text>
<text x="513.1999999999999" y="142.4" font-size="6" stroke="#000" stroke-width="0.2">4</text>
<line x1="304.4" y1="153.6" x2="511.5" y2="153.6" stroke="#000" stroke-width="2.2"/>
<text x="395.6" y="169.8" font-size="12.5" textLength="31.4" lengthAdjust="spacingAndGlyphs" >Sca-1</text>
<rect x="35.1" y="37.6" width="97.6" height="98.2" fill="none" stroke="#222" stroke-width="1"/>
<rect x="70.5" y="56.5" width="36.5" height="28" fill="none" stroke="#333" stroke-width="0.9"/>
<text x="76.9" y="54.8" font-size="13.2" textLength="24.3" lengthAdjust="spacingAndGlyphs" >0.09</text>
<rect x="145.2" y="37.6" width="97.8" height="98.2" fill="none" stroke="#222" stroke-width="1"/>
<rect x="180.6" y="56.5" width="36.5" height="28" fill="none" stroke="#333" stroke-width="0.9"/>
<text x="185" y="54.9" font-size="13.2" textLength="24.3" lengthAdjust="spacingAndGlyphs" >0.10</text>
<rect x="305" y="37.5" width="96.3" height="96.9" fill="none" stroke="#222" stroke-width="1"/>
<rect x="307.7" y="60.6" width="31.6" height="26.2" fill="none" stroke="#222" stroke-width="1"/>
<rect x="340.7" y="60.6" width="53.6" height="26.2" fill="none" stroke="#222" stroke-width="1"/>
<text x="314.4" y="49" font-size="13.2" textLength="24.4" lengthAdjust="spacingAndGlyphs" >0.37</text>
<text x="352.9" y="49" font-size="13.2" textLength="24.2" lengthAdjust="spacingAndGlyphs" >0.13</text>
<text x="319.4" y="59.8" font-size="10.2" textLength="11.3" lengthAdjust="spacingAndGlyphs" stroke="#000" stroke-width="0.2">R1</text>
<text x="360.2" y="59.8" font-size="10.2" textLength="11.5" lengthAdjust="spacingAndGlyphs" stroke="#000" stroke-width="0.2">R2</text>
<rect x="415.6" y="36.9" width="95.9" height="97.5" fill="none" stroke="#222" stroke-width="1"/>
<rect x="418.5" y="60.2" width="31" height="26.2" fill="none" stroke="#222" stroke-width="1"/>
<rect x="451.3" y="60.2" width="54.2" height="26.2" fill="none" stroke="#222" stroke-width="1"/>
<text x="425.7" y="49" font-size="13.2" textLength="24" lengthAdjust="spacingAndGlyphs" >0.26</text>
<text x="463.7" y="49" font-size="13.2" textLength="24" lengthAdjust="spacingAndGlyphs" >0.07</text>
<text x="431.3" y="59.6" font-size="10.2" textLength="11.3" lengthAdjust="spacingAndGlyphs" stroke="#000" stroke-width="0.2">R1</text>
<text x="471.8" y="59.6" font-size="10.2" textLength="11.7" lengthAdjust="spacingAndGlyphs" stroke="#000" stroke-width="0.2">R2</text>
<path d="M301.4 134.4H305.0M305.0 134.4V136.6M303.0 127.1H305.0M312.2 134.4V135.6M303.0 122.8H305.0M316.5 134.4V135.6M303.0 119.8H305.0M319.5 134.4V135.6M303.0 117.5H305.0M321.8 134.4V135.6M303.0 115.5H305.0M323.7 134.4V135.6M303.0 113.9H305.0M325.3 134.4V135.6M303.0 112.5H305.0M326.7 134.4V135.6M303.0 111.3H305.0M328.0 134.4V135.6M301.4 110.2H305.0M329.1 134.4V136.6M303.0 102.9H305.0M336.3 134.4V135.6M303.0 98.6H305.0M340.6 134.4V135.6M303.0 95.6H305.0M343.6 134.4V135.6M303.0 93.2H305.0M345.9 134.4V135.6M303.0 91.3H305.0M347.8 134.4V135.6M303.0 89.7H305.0M349.4 134.4V135.6M303.0 88.3H305.0M350.8 134.4V135.6M303.0 87.1H305.0M352.0 134.4V135.6M301.4 86.0H305.0M353.1 134.4V136.6M303.0 78.7H305.0M360.4 134.4V135.6M303.0 74.4H305.0M364.6 134.4V135.6M303.0 71.4H305.0M367.6 134.4V135.6M303.0 69.0H305.0M370.0 134.4V135.6M303.0 67.1H305.0M371.9 134.4V135.6M303.0 65.5H305.0M373.5 134.4V135.6M303.0 64.1H305.0M374.9 134.4V135.6M303.0 62.8H305.0M376.1 134.4V135.6M301.4 61.7H305.0M377.2 134.4V136.6M303.0 54.4H305.0M384.5 134.4V135.6M303.0 50.2H305.0M388.7 134.4V135.6M303.0 47.1H305.0M391.7 134.4V135.6M303.0 44.8H305.0M394.1 134.4V135.6M303.0 42.9H305.0M396.0 134.4V135.6M303.0 41.3H305.0M397.6 134.4V135.6M303.0 39.8H305.0M399.0 134.4V135.6M303.0 38.6H305.0M400.2 134.4V135.6M301.4 37.5H305.0" stroke="#111" stroke-width="0.9" fill="none"/>
<path d="M412.0 134.4H415.6M415.6 134.4V136.6M413.6 127.1H415.6M422.8 134.4V135.6M413.6 122.8H415.6M427.0 134.4V135.6M413.6 119.8H415.6M430.0 134.4V135.6M413.6 117.4H415.6M432.4 134.4V135.6M413.6 115.5H415.6M434.3 134.4V135.6M413.6 113.9H415.6M435.9 134.4V135.6M413.6 112.5H415.6M437.3 134.4V135.6M413.6 111.2H415.6M438.5 134.4V135.6M412.0 110.1H415.6M439.6 134.4V136.6M413.6 102.8H415.6M446.8 134.4V135.6M413.6 98.5H415.6M451.0 134.4V135.6M413.6 95.5H415.6M454.0 134.4V135.6M413.6 93.2H415.6M456.3 134.4V135.6M413.6 91.2H415.6M458.2 134.4V135.6M413.6 89.6H415.6M459.8 134.4V135.6M413.6 88.2H415.6M461.2 134.4V135.6M413.6 87.0H415.6M462.5 134.4V135.6M412.0 85.8H415.6M463.6 134.4V136.6M413.6 78.5H415.6M470.8 134.4V135.6M413.6 74.3H415.6M475.0 134.4V135.6M413.6 71.2H415.6M478.0 134.4V135.6M413.6 68.9H415.6M480.3 134.4V135.6M413.6 67.0H415.6M482.2 134.4V135.6M413.6 65.3H415.6M483.8 134.4V135.6M413.6 63.9H415.6M485.2 134.4V135.6M413.6 62.7H415.6M486.4 134.4V135.6M412.0 61.6H415.6M487.5 134.4V136.6M413.6 54.3H415.6M494.7 134.4V135.6M413.6 50.0H415.6M499.0 134.4V135.6M413.6 47.0H415.6M502.0 134.4V135.6M413.6 44.6H415.6M504.3 134.4V135.6M413.6 42.7H415.6M506.2 134.4V135.6M413.6 41.1H415.6M507.8 134.4V135.6M413.6 39.7H415.6M509.2 134.4V135.6M413.6 38.4H415.6M510.4 134.4V135.6M412.0 37.3H415.6" stroke="#111" stroke-width="0.9" fill="none"/>
<text x="1.8" y="197.3" font-size="19.5" textLength="12.8" lengthAdjust="spacingAndGlyphs" >C</text>
<text x="32.21" y="204.3" font-size="9.5" textLength="18.29" lengthAdjust="spacingAndGlyphs" >0.04</text>
<text x="32.21" y="241.7" font-size="9.5" textLength="18.29" lengthAdjust="spacingAndGlyphs" >0.02</text>
<text x="45.27" y="278.1" font-size="9.5" textLength="5.23" lengthAdjust="spacingAndGlyphs" >0</text>
<line x1="57.5" y1="238.6" x2="61.1" y2="238.6" stroke="#000" stroke-width="1.6"/>
<rect x="70" y="230" width="16" height="45" fill="#fff" stroke="#000" stroke-width="2"/>
<line x1="78.5" y1="212" x2="78.5" y2="247" stroke="#000" stroke-width="1.9"/>
<line x1="75" y1="212" x2="82" y2="212" stroke="#000" stroke-width="1.8"/>
<line x1="75" y1="247" x2="82" y2="247" stroke="#000" stroke-width="1.8"/>
<rect x="110.7" y="252" width="18.099999999999994" height="23" fill="#000"/>
<line x1="119.6" y1="247" x2="119.6" y2="253" stroke="#000" stroke-width="1.9"/>
<line x1="116.2" y1="247" x2="123" y2="247" stroke="#000" stroke-width="1.8"/>
<line x1="99.3" y1="271.4" x2="99.3" y2="275" stroke="#000" stroke-width="1.6"/>
<rect x="57.5" y="202" width="83.0" height="73" fill="none" stroke="#000" stroke-width="2.1"/>
<text x="80" y="196.5" font-size="10.8" textLength="11.3" lengthAdjust="spacingAndGlyphs">34</text><rect x="91.9" y="189.5" width="2.9" height="1.3" fill="#000"/><text x="95.6" y="196.5" font-size="10.8" textLength="21.3" lengthAdjust="spacingAndGlyphs">KSL</text>
<text x="72.5" y="290.2" font-size="9.2" textLength="11.8" lengthAdjust="spacingAndGlyphs" >Wt</text>
<text x="115.8" y="290.2" font-size="9.2" textLength="10.3" lengthAdjust="spacingAndGlyphs" >+/-</text>
<text x="113.9" y="243.2" font-size="22" >*</text>
<line x1="29.2" y1="201.3" x2="29.2" y2="274.5" stroke="#000" stroke-width="2.1"/>
<text transform="translate(25.6,239) rotate(-90)" font-size="12.3">%</text>
<text x="153.91" y="205.3" font-size="9.5" textLength="18.29" lengthAdjust="spacingAndGlyphs" >0.15</text>
<text x="159.13" y="230.1" font-size="9.5" textLength="13.07" lengthAdjust="spacingAndGlyphs" >0.1</text>
<text x="153.91" y="254.7" font-size="9.5" textLength="18.29" lengthAdjust="spacingAndGlyphs" >0.05</text>
<text x="166.97" y="278.7" font-size="9.5" textLength="5.23" lengthAdjust="spacingAndGlyphs" >0</text>
<line x1="179.5" y1="227.0" x2="183.1" y2="227.0" stroke="#000" stroke-width="1.6"/>
<line x1="179.5" y1="251.6" x2="183.1" y2="251.6" stroke="#000" stroke-width="1.6"/>
<rect x="192.3" y="221.6" width="16.899999999999977" height="53.900000000000006" fill="#fff" stroke="#000" stroke-width="2"/>
<line x1="200.75" y1="209.3" x2="200.75" y2="233.6" stroke="#000" stroke-width="1.9"/>
<line x1="197" y1="209.3" x2="204.5" y2="209.3" stroke="#000" stroke-width="1.8"/>
<line x1="197" y1="233.6" x2="204.5" y2="233.6" stroke="#000" stroke-width="1.8"/>
<rect x="233.7" y="240.5" width="18.30000000000001" height="35.0" fill="#000"/>
<line x1="242.9" y1="237.6" x2="242.9" y2="241.5" stroke="#000" stroke-width="1.9"/>
<line x1="239.5" y1="237.6" x2="246.3" y2="237.6" stroke="#000" stroke-width="1.8"/>
<line x1="221.5" y1="271.9" x2="221.5" y2="275.5" stroke="#000" stroke-width="1.6"/>
<rect x="179.5" y="203" width="82.5" height="72.5" fill="none" stroke="#000" stroke-width="2.1"/>
<text x="210.2" y="196.8" font-size="10.6" textLength="21.2" lengthAdjust="spacingAndGlyphs">KSL</text>
<text x="195" y="291.3" font-size="9.2" textLength="11.8" lengthAdjust="spacingAndGlyphs" >Wt</text>
<text x="239.3" y="291.3" font-size="9.2" textLength="10.6" lengthAdjust="spacingAndGlyphs" >+/-</text>
<text x="238.9" y="233.8" font-size="22" >*</text>
<text x="285.35" y="209.8" font-size="9.5" textLength="10.45" lengthAdjust="spacingAndGlyphs" >40</text>
<text x="285.35" y="228.1" font-size="9.5" textLength="10.45" lengthAdjust="spacingAndGlyphs" >30</text>
<text x="285.35" y="245.1" font-size="9.5" textLength="10.45" lengthAdjust="spacingAndGlyphs" >20</text>
<text x="285.35" y="262.3" font-size="9.5" textLength="10.45" lengthAdjust="spacingAndGlyphs" >10</text>
<text x="290.57" y="279.4" font-size="9.5" textLength="5.23" lengthAdjust="spacingAndGlyphs" >0</text>
<line x1="302.7" y1="225" x2="306.3" y2="225" stroke="#000" stroke-width="1.6"/>
<line x1="302.7" y1="242" x2="306.3" y2="242" stroke="#000" stroke-width="1.6"/>
<line x1="302.7" y1="259.2" x2="306.3" y2="259.2" stroke="#000" stroke-width="1.6"/>
<rect x="317.2" y="231.4" width="17.400000000000034" height="44.900000000000006" fill="#fff" stroke="#000" stroke-width="2"/>
<line x1="325.7" y1="226.6" x2="325.7" y2="236.3" stroke="#000" stroke-width="1.9"/>
<line x1="322" y1="226.6" x2="329.4" y2="226.6" stroke="#000" stroke-width="1.8"/>
<line x1="322" y1="236.3" x2="329.4" y2="236.3" stroke="#000" stroke-width="1.8"/>
<rect x="362" y="232" width="19.30000000000001" height="44.30000000000001" fill="#000"/>
<line x1="371.5" y1="226.3" x2="371.5" y2="233" stroke="#000" stroke-width="1.9"/>
<line x1="368" y1="226.3" x2="375" y2="226.3" stroke="#000" stroke-width="1.8"/>
<line x1="348" y1="272.7" x2="348" y2="276.3" stroke="#000" stroke-width="1.6"/>
<rect x="302.7" y="207.6" width="93.5" height="68.70000000000002" fill="none" stroke="#000" stroke-width="2.1"/>
<text x="321.8" y="201.6" font-size="10.6" textLength="47.7" lengthAdjust="spacingAndGlyphs">Mac1/Gr1</text>
<text x="319.4" y="292.4" font-size="9.2" textLength="13.2" lengthAdjust="spacingAndGlyphs" >Wt</text>
<text x="367.8" y="292.4" font-size="9.2" textLength="12.2" lengthAdjust="spacingAndGlyphs" >+/-</text>
<text x="411.05" y="210.7" font-size="9.5" textLength="10.45" lengthAdjust="spacingAndGlyphs" >10</text>
<text x="416.27" y="225.1" font-size="9.5" textLength="5.23" lengthAdjust="spacingAndGlyphs" >8</text>
<text x="416.27" y="239.3" font-size="9.5" textLength="5.23" lengthAdjust="spacingAndGlyphs" >6</text>
<text x="416.27" y="253.3" font-size="9.5" textLength="5.23" lengthAdjust="spacingAndGlyphs" >4</text>
<text x="416.27" y="267.4" font-size="9.5" textLength="5.23" lengthAdjust="spacingAndGlyphs" >2</text>
<text x="416.27" y="281.3" font-size="9.5" textLength="5.23" lengthAdjust="spacingAndGlyphs" >0</text>
<line x1="425.9" y1="222" x2="429.5" y2="222" stroke="#000" stroke-width="1.6"/>
<line x1="425.9" y1="236.2" x2="429.5" y2="236.2" stroke="#000" stroke-width="1.6"/>
<line x1="425.9" y1="250.2" x2="429.5" y2="250.2" stroke="#000" stroke-width="1.6"/>
<line x1="425.9" y1="264.3" x2="429.5" y2="264.3" stroke="#000" stroke-width="1.6"/>
<rect x="440.2" y="241.7" width="17.600000000000023" height="36.5" fill="#fff" stroke="#000" stroke-width="2"/>
<line x1="448.8" y1="236.2" x2="448.8" y2="246.8" stroke="#000" stroke-width="1.9"/>
<line x1="445" y1="236.2" x2="452.6" y2="236.2" stroke="#000" stroke-width="1.8"/>
<line x1="445" y1="246.8" x2="452.6" y2="246.8" stroke="#000" stroke-width="1.8"/>
<rect x="485.5" y="231.7" width="19.5" height="46.5" fill="#000"/>
<line x1="495.05" y1="225" x2="495.05" y2="232.7" stroke="#000" stroke-width="1.9"/>
<line x1="491.3" y1="225" x2="498.8" y2="225" stroke="#000" stroke-width="1.8"/>
<line x1="471.8" y1="274.59999999999997" x2="471.8" y2="278.2" stroke="#000" stroke-width="1.6"/>
<rect x="425.9" y="208.9" width="93.30000000000007" height="69.29999999999998" fill="none" stroke="#000" stroke-width="2.1"/>
<text x="457" y="203" font-size="10.6" textLength="26" lengthAdjust="spacingAndGlyphs">B220</text>
<text x="442.5" y="294.5" font-size="9.2" textLength="13.6" lengthAdjust="spacingAndGlyphs" >Wt</text>
<text x="490.5" y="294.5" font-size="9.2" textLength="12.4" lengthAdjust="spacingAndGlyphs" >+/-</text>
<text x="32.83" y="316.2" font-size="9.5" textLength="13.07" lengthAdjust="spacingAndGlyphs" >0.8</text>
<text x="32.83" y="334.9" font-size="9.5" textLength="13.07" lengthAdjust="spacingAndGlyphs" >0.6</text>
<text x="32.83" y="353.6" font-size="9.5" textLength="13.07" lengthAdjust="spacingAndGlyphs" >0.4</text>
<text x="32.83" y="372.3" font-size="9.5" textLength="13.07" lengthAdjust="spacingAndGlyphs" >0.2</text>
<text x="40.67" y="390.6" font-size="9.5" textLength="5.23" lengthAdjust="spacingAndGlyphs" >0</text>
<line x1="52" y1="331.8" x2="55.6" y2="331.8" stroke="#000" stroke-width="1.6"/>
<line x1="52" y1="350.5" x2="55.6" y2="350.5" stroke="#000" stroke-width="1.6"/>
<line x1="52" y1="369.2" x2="55.6" y2="369.2" stroke="#000" stroke-width="1.6"/>
<rect x="66" y="335.4" width="16.799999999999997" height="52.200000000000045" fill="#fff" stroke="#000" stroke-width="2"/>
<line x1="74.0" y1="330.4" x2="74.0" y2="340.2" stroke="#000" stroke-width="1.9"/>
<line x1="70" y1="330.4" x2="78" y2="330.4" stroke="#000" stroke-width="1.8"/>
<line x1="70" y1="340.2" x2="78" y2="340.2" stroke="#000" stroke-width="1.8"/>
<rect x="109.5" y="348" width="19.299999999999997" height="39.60000000000002" fill="#000"/>
<line x1="119.15" y1="344.9" x2="119.15" y2="349" stroke="#000" stroke-width="1.9"/>
<line x1="115.8" y1="344.9" x2="122.5" y2="344.9" stroke="#000" stroke-width="1.8"/>
<line x1="96.8" y1="384.0" x2="96.8" y2="387.6" stroke="#000" stroke-width="1.6"/>
<rect x="52" y="313.8" width="88.4" height="73.80000000000001" fill="none" stroke="#000" stroke-width="2.1"/>
<text x="87" y="308" font-size="10.5" textLength="13.8" lengthAdjust="spacingAndGlyphs">KL</text>
<text x="68.8" y="402.6" font-size="9.2" textLength="11.4" lengthAdjust="spacingAndGlyphs" >Wt</text>
<text x="115.8" y="402.6" font-size="9.2" textLength="10" lengthAdjust="spacingAndGlyphs" >+/-</text>
<text x="113.9" y="344.4" font-size="22" >*</text>
<line x1="29" y1="312.6" x2="29" y2="386.2" stroke="#000" stroke-width="2.1"/>
<text transform="translate(25.6,350.8) rotate(-90)" font-size="12.3">%</text>
<text x="156.15" y="319.5" font-size="9.5" textLength="10.45" lengthAdjust="spacingAndGlyphs" >80</text>
<text x="156.15" y="336.9" font-size="9.5" textLength="10.45" lengthAdjust="spacingAndGlyphs" >60</text>
<text x="156.15" y="354.7" font-size="9.5" textLength="10.45" lengthAdjust="spacingAndGlyphs" >40</text>
<text x="156.15" y="372.3" font-size="9.5" textLength="10.45" lengthAdjust="spacingAndGlyphs" >20</text>
<text x="161.37" y="389.9" font-size="9.5" textLength="5.23" lengthAdjust="spacingAndGlyphs" >0</text>
<line x1="172.3" y1="333.8" x2="175.9" y2="333.8" stroke="#000" stroke-width="1.6"/>
<line x1="172.3" y1="351.6" x2="175.9" y2="351.6" stroke="#000" stroke-width="1.6"/>
<line x1="172.3" y1="369.2" x2="175.9" y2="369.2" stroke="#000" stroke-width="1.6"/>
<rect x="186.8" y="327.6" width="17.69999999999999" height="59.0" fill="#fff" stroke="#000" stroke-width="2"/>
<line x1="195.4" y1="324.8" x2="195.4" y2="329.6" stroke="#000" stroke-width="1.9"/>
<line x1="192" y1="324.8" x2="198.8" y2="324.8" stroke="#000" stroke-width="1.8"/>
<line x1="192" y1="329.6" x2="198.8" y2="329.6" stroke="#000" stroke-width="1.8"/>
<rect x="232" y="325" width="19.80000000000001" height="61.60000000000002" fill="#000"/>
<line x1="241.65" y1="321.2" x2="241.65" y2="326" stroke="#000" stroke-width="1.9"/>
<line x1="238.3" y1="321.2" x2="245" y2="321.2" stroke="#000" stroke-width="1.8"/>
<line x1="218" y1="383.0" x2="218" y2="386.6" stroke="#000" stroke-width="1.6"/>
<rect x="172.3" y="317" width="93.30000000000001" height="69.60000000000002" fill="none" stroke="#000" stroke-width="2.1"/>
<text x="201.5" y="311.3" font-size="10.6" textLength="35.3" lengthAdjust="spacingAndGlyphs">Ter119</text>
<text x="189.5" y="403" font-size="9.2" textLength="13" lengthAdjust="spacingAndGlyphs" >Wt</text>
<text x="237.6" y="403" font-size="9.2" textLength="12" lengthAdjust="spacingAndGlyphs" >+/-</text>
<rect x="192.2" y="324" width="6.5" height="6" fill="#000"/>
<text x="286.37" y="319.4" font-size="9.5" textLength="5.23" lengthAdjust="spacingAndGlyphs" >3</text>
<text x="286.37" y="343.1" font-size="9.5" textLength="5.23" lengthAdjust="spacingAndGlyphs" >2</text>
<text x="286.37" y="366.9" font-size="9.5" textLength="5.23" lengthAdjust="spacingAndGlyphs" >1</text>
<text x="286.37" y="390.3" font-size="9.5" textLength="5.23" lengthAdjust="spacingAndGlyphs" >0</text>
<line x1="297.6" y1="340" x2="301.20000000000005" y2="340" stroke="#000" stroke-width="1.6"/>
<line x1="297.6" y1="363.8" x2="301.20000000000005" y2="363.8" stroke="#000" stroke-width="1.6"/>
<rect x="313" y="359.2" width="18.5" height="28.30000000000001" fill="#fff" stroke="#000" stroke-width="2"/>
<line x1="322.55" y1="341.2" x2="322.55" y2="377.6" stroke="#000" stroke-width="1.9"/>
<line x1="318.8" y1="341.2" x2="326.3" y2="341.2" stroke="#000" stroke-width="1.8"/>
<line x1="318.8" y1="377.6" x2="326.3" y2="377.6" stroke="#000" stroke-width="1.8"/>
<rect x="360.5" y="360.5" width="21.30000000000001" height="27.0" fill="#000"/>
<line x1="371.1" y1="355.4" x2="371.1" y2="361.5" stroke="#000" stroke-width="1.9"/>
<line x1="367.6" y1="355.4" x2="374.6" y2="355.4" stroke="#000" stroke-width="1.8"/>
<line x1="346.8" y1="383.9" x2="346.8" y2="387.5" stroke="#000" stroke-width="1.6"/>
<rect x="297.6" y="316.4" width="99.29999999999995" height="71.10000000000002" fill="none" stroke="#000" stroke-width="2.1"/>
<text x="328" y="312" font-size="10.6" textLength="31" lengthAdjust="spacingAndGlyphs">CD4/8</text>
<text x="315.8" y="403.7" font-size="9.2" textLength="13.4" lengthAdjust="spacingAndGlyphs" >Wt</text>
<text x="366.8" y="403.7" font-size="9.2" textLength="12.4" lengthAdjust="spacingAndGlyphs" >+/-</text>
</g>
</svg>
</body></html>
